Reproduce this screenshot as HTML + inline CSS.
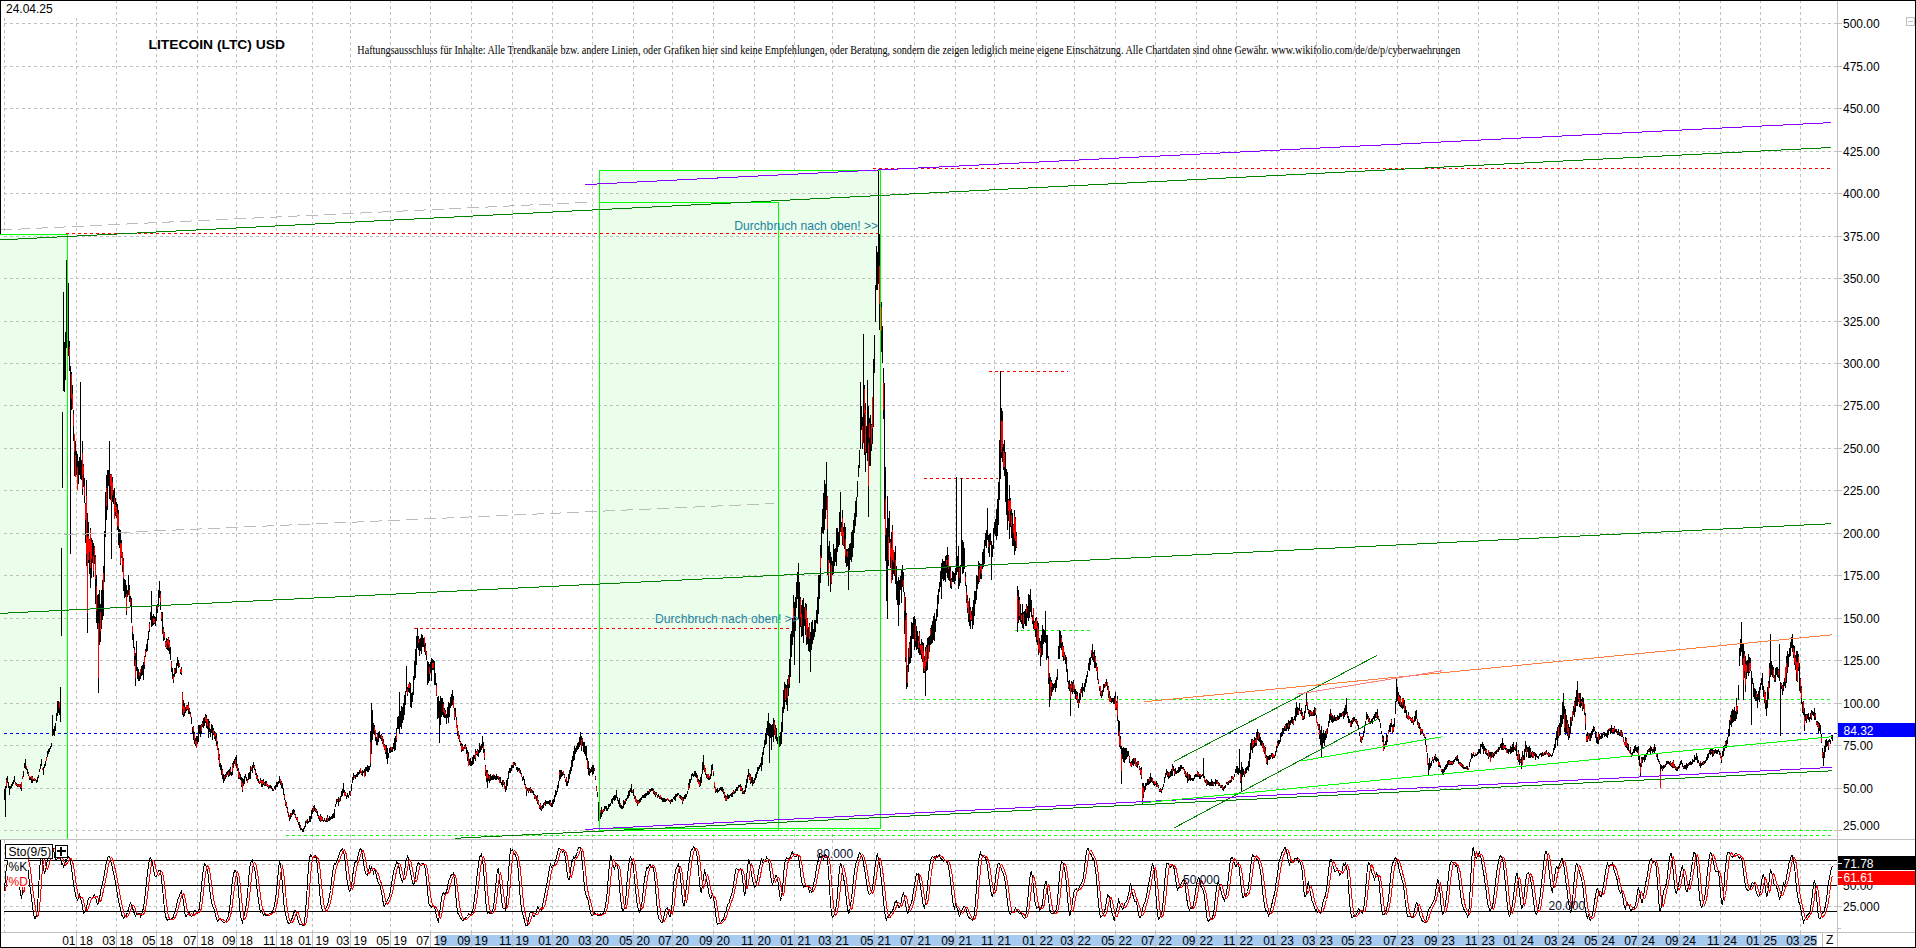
<!DOCTYPE html><html><head><meta charset="utf-8"><title>LTC</title><style>html,body{margin:0;padding:0;background:#fff;overflow:hidden}svg{display:block}</style></head><body><svg width="1916" height="948" viewBox="0 0 1916 948" shape-rendering="crispEdges" font-family="Liberation Sans, sans-serif" font-size="12">
<rect width="1916" height="948" fill="#fff"/>
<path d="M4.5 0V932M76.5 0V932M116.5 0V932M156.5 0V932M197.5 0V932M236.5 0V932M276.5 0V932M312.5 0V932M350.5 0V932M390.5 0V932M430.5 0V932M471.5 0V932M512.5 0V932M552.5 0V932M592.5 0V932M633.5 0V932M672.5 0V932M713.5 0V932M754.5 0V932M794.5 0V932M832.5 0V932M874.5 0V932M914.5 0V932M955.5 0V932M994.5 0V932M1036.5 0V932M1074.5 0V932M1115.5 0V932M1155.5 0V932M1196.5 0V932M1236.5 0V932M1277.5 0V932M1316.5 0V932M1355.5 0V932M1397.5 0V932M1438.5 0V932M1478.5 0V932M1517.5 0V932M1558.5 0V932M1598.5 0V932M1638.5 0V932M1679.5 0V932M1720.5 0V932M1760.5 0V932M1800.5 0V932" stroke="#c0c0c0" stroke-dasharray="3 3" fill="none"/>
<rect x="0" y="234" width="67" height="605" fill="#ebfdeb"/>
<rect x="599" y="170" width="282" height="658" fill="#ebfdeb"/>
<rect x="599" y="202" width="180" height="628" fill="#ebfdeb"/>
<path d="M4 23.5H1842M4 66.5H1842M4 108.5H1842M4 151.5H1842M4 193.5H1842M4 236.5H1842M4 278.5H1842M4 321.5H1842M4 363.5H1842M4 405.5H1842M4 448.5H1842M4 490.5H1842M4 533.5H1842M4 575.5H1842M4 618.5H1842M4 660.5H1842M4 703.5H1842M4 745.5H1842M4 788.5H1842M4 830.5H1842" stroke="#c0c0c0" stroke-dasharray="3 3" fill="none"/>
<path d="M66 233.5H878M873 168.5H1831M414 628.5H794M924 478.5H998M989 371.5H1068" stroke="#ff0000" stroke-dasharray="3 3" fill="none"/>
<path d="M903 699.5H1830M1015 630.5H1091M600 830.5H1832M286 835.5H1832" stroke="#00ff00" stroke-dasharray="3 3" fill="none"/>
<path d="M4 733.5H1838" stroke="#0000ff" stroke-dasharray="3 3" fill="none"/>
<path d="M4.5 789V800M5.5 786V817M6.5 778V788M7.5 776V783M8.5 782V788M9.5 786V795M10.5 786V789M11.5 784V788M12.5 782V786M13.5 780V784M14.5 776V782M15.5 782V785M16.5 783V786M17.5 784V787M18.5 784V787M19.5 784V787M20.5 784V789M21.5 782V791M22.5 776V779M23.5 771V777M24.5 763V768M25.5 759V769M26.5 766V770M27.5 769V774M28.5 772V776M29.5 776V780M30.5 777V780M31.5 776V783M32.5 776V783M33.5 779V781M34.5 778V781M35.5 779V781M36.5 780V783M37.5 777V782M38.5 775V778M39.5 769V772M40.5 764V769M41.5 759V766M42.5 768V770M43.5 767V775M44.5 764V768M45.5 761V766M46.5 757V761M47.5 751V757M48.5 749V754M49.5 748V752M50.5 746V749M51.5 743V747M52.5 715V736M53.5 729V735M54.5 726V736M55.5 723V731M56.5 713V721M57.5 701V716M58.5 701V713M59.5 702V715M60.5 687V722M61.5 548V636M62.5 412V488M63.5 292V391M64.5 342V392M65.5 332V380M66.5 260V348M67.5 295V355M68.5 283V356M69.5 341V371M70.5 366V554M71.5 372V410M72.5 385V409M73.5 410V441M74.5 434V476M75.5 441V477M76.5 451V475M77.5 454V490M78.5 461V484M79.5 457V475M80.5 382V479M81.5 460V480M82.5 441V495M83.5 464V487M84.5 478V503M85.5 503V543M86.5 480V566M87.5 513V633M88.5 522V563M89.5 539V574M90.5 528V588M91.5 538V578M92.5 540V563M93.5 543V577M94.5 546V564M95.5 555V604M96.5 575V623M97.5 595V629M98.5 594V693M99.5 590V645M100.5 604V642M101.5 590V629M102.5 580V620M103.5 566V616M104.5 531V582M105.5 492V537M106.5 475V520M107.5 470V510M108.5 470V486M109.5 441V499M110.5 474V500M111.5 474V559M112.5 477V502M113.5 490V504M114.5 488V519M115.5 498V516M116.5 502V518M117.5 504V530M118.5 510V545M119.5 529V548M120.5 530V565M121.5 540V558M122.5 552V572M123.5 558V591M124.5 579V598M125.5 580V597M126.5 585V615M127.5 590V597M128.5 575V595M129.5 585V602M130.5 596V606M131.5 598V623M132.5 626V640M133.5 634V648M134.5 647V666M135.5 653V686M136.5 641V671M137.5 667V679M138.5 669V681M139.5 672V681M140.5 669V679M141.5 666V676M142.5 665V675M143.5 662V680M144.5 656V669M145.5 649V657M146.5 644V652M147.5 639V651M148.5 631V640M149.5 622V632M150.5 612V620M151.5 591V627M152.5 616V626M153.5 614V625M154.5 616V624M155.5 617V626M156.5 606V621M157.5 604V613M158.5 590V607M159.5 581V598M160.5 591V610M161.5 612V621M162.5 612V634M163.5 627V641M164.5 632V640M165.5 641V647M166.5 638V649M167.5 639V650M168.5 637V651M169.5 640V654M170.5 647V660M171.5 661V672M172.5 668V679M173.5 674V683M174.5 668V677M175.5 668V674M176.5 663V673M177.5 657V666M178.5 660V668M179.5 663V667M180.5 669V674M181.5 667V675M182.5 692V715M183.5 700V717M184.5 703V716M185.5 707V713M186.5 705V711M187.5 705V710M188.5 702V714M189.5 708V714M190.5 712V717M191.5 717V724M192.5 727V734M193.5 726V740M194.5 732V744M195.5 738V746M196.5 736V748M197.5 736V744M198.5 725V742M199.5 725V734M200.5 725V737M201.5 724V734M202.5 721V727M203.5 718V728M204.5 717V726M205.5 714V723M206.5 715V728M207.5 719V729M208.5 719V738M209.5 721V732M210.5 729V737M211.5 724V733M212.5 725V740M213.5 728V735M214.5 731V739M215.5 732V741M216.5 734V746M217.5 741V750M218.5 748V760M219.5 754V767M220.5 763V770M221.5 765V775M222.5 769V779M223.5 774V783M224.5 775V781M225.5 774V779M226.5 772V777M227.5 771V775M228.5 770V777M229.5 769V776M230.5 767V775M231.5 772V776M232.5 763V775M233.5 761V768M234.5 759V764M235.5 757V766M236.5 755V768M237.5 764V771M238.5 768V779M239.5 772V779M240.5 774V780M241.5 777V787M242.5 778V792M243.5 779V786M244.5 776V784M245.5 774V778M246.5 777V781M247.5 779V783M248.5 773V780M249.5 772V779M250.5 766V779M251.5 767V771M252.5 765V773M253.5 762V768M254.5 765V770M255.5 769V775M256.5 773V779M257.5 775V781M258.5 779V783M259.5 781V784M260.5 778V783M261.5 780V787M262.5 780V787M263.5 779V785M264.5 782V786M265.5 781V786M266.5 781V786M267.5 784V787M268.5 785V789M269.5 785V788M270.5 785V788M271.5 786V789M272.5 788V791M273.5 789V791M274.5 786V789M275.5 785V790M276.5 782V787M277.5 782V787M278.5 781V784M279.5 776V783M280.5 779V785M281.5 781V788M282.5 783V789M283.5 788V795M284.5 794V800M285.5 800V806M286.5 802V808M287.5 807V813M288.5 812V817M289.5 815V821M290.5 813V819M291.5 813V817M292.5 810V815M293.5 809V814M294.5 810V815M295.5 814V818M296.5 817V820M297.5 817V822M298.5 822V825M299.5 822V828M300.5 825V830M301.5 828V830M302.5 829V832M303.5 828V832M304.5 826V829M305.5 821V827M306.5 820V823M307.5 819V824M308.5 821V823M309.5 816V822M310.5 816V822M311.5 810V819M312.5 808V814M313.5 806V812M314.5 805V811M315.5 808V812M316.5 809V813M317.5 811V816M318.5 815V819M319.5 816V821M320.5 814V822M321.5 816V821M322.5 817V821M323.5 820V822M324.5 818V821M325.5 820V822M326.5 818V822M327.5 815V822M328.5 818V821M329.5 816V821M330.5 817V820M331.5 816V819M332.5 814V819M333.5 813V818M334.5 809V818M335.5 804V807M336.5 799V804M337.5 799V802M338.5 797V806M339.5 798V802M340.5 796V801M341.5 791V797M342.5 789V796M343.5 783V793M344.5 790V796M345.5 792V796M346.5 795V799M347.5 793V797M348.5 795V798M349.5 791V795M350.5 791V796M351.5 784V791M352.5 777V783M353.5 773V780M354.5 775V778M355.5 775V779M356.5 774V777M357.5 772V777M358.5 772V775M359.5 770V774M360.5 768V773M361.5 771V775M362.5 770V776M363.5 771V773M364.5 769V777M365.5 767V776M366.5 767V771M367.5 765V772M368.5 766V772M369.5 766V770M370.5 731V767M371.5 703V754M372.5 710V740M373.5 723V734M374.5 725V735M375.5 730V741M376.5 737V745M377.5 733V745M378.5 732V742M379.5 731V738M380.5 735V739M381.5 734V741M382.5 736V744M383.5 739V747M384.5 744V750M385.5 745V754M386.5 745V759M387.5 748V764M388.5 753V758M389.5 748V753M390.5 747V753M391.5 747V752M392.5 747V752M393.5 743V749M394.5 738V751M395.5 736V750M396.5 728V742M397.5 717V729M398.5 716V729M399.5 692V734M400.5 711V727M401.5 706V729M402.5 707V723M403.5 703V720M404.5 695V715M405.5 691V705M406.5 666V692M407.5 687V696M408.5 684V692M409.5 682V693M410.5 683V707M411.5 693V708M412.5 692V702M413.5 676V695M414.5 661V680M415.5 649V678M416.5 636V665M417.5 628V648M418.5 636V650M419.5 639V656M420.5 638V651M421.5 634V654M422.5 635V647M423.5 638V647M424.5 637V652M425.5 643V655M426.5 651V660M427.5 661V685M428.5 662V683M429.5 664V681M430.5 662V673M431.5 658V681M432.5 659V670M433.5 660V670M434.5 661V685M435.5 673V685M436.5 683V696M437.5 697V719M438.5 696V718M439.5 701V743M440.5 696V725M441.5 698V717M442.5 698V715M443.5 702V717M444.5 708V718M445.5 710V718M446.5 714V724M447.5 707V718M448.5 702V723M449.5 703V717M450.5 697V708M451.5 694V706M452.5 690V705M453.5 696V708M454.5 708V720M455.5 708V717M456.5 717V728M457.5 725V736M458.5 731V739M459.5 735V742M460.5 741V746M461.5 743V752M462.5 744V751M463.5 747V751M464.5 745V749M465.5 744V749M466.5 747V754M467.5 750V761M468.5 752V766M469.5 759V765M470.5 758V766M471.5 761V766M472.5 757V765M473.5 755V764M474.5 755V759M475.5 749V761M476.5 751V755M477.5 749V756M478.5 750V757M479.5 743V753M480.5 746V752M481.5 744V750M482.5 736V748M483.5 742V753M484.5 749V760M485.5 765V776M486.5 770V782M487.5 770V788M488.5 774V781M489.5 775V783M490.5 774V781M491.5 776V780M492.5 775V780M493.5 774V780M494.5 775V779M495.5 776V780M496.5 774V780M497.5 776V779M498.5 776V780M499.5 777V783M500.5 777V783M501.5 782V785M502.5 780V787M503.5 780V785M504.5 782V789M505.5 786V792M506.5 780V790M507.5 778V786M508.5 771V779M509.5 768V773M510.5 768V773M511.5 765V771M512.5 765V768M513.5 762V768M514.5 762V765M515.5 763V766M516.5 767V770M517.5 767V772M518.5 768V771M519.5 768V773M520.5 770V774M521.5 773V777M522.5 777V781M523.5 776V780M524.5 779V785M525.5 784V789M526.5 787V796M527.5 788V791M528.5 788V793M529.5 788V791M530.5 787V793M531.5 789V793M532.5 790V793M533.5 791V795M534.5 794V799M535.5 795V799M536.5 796V801M537.5 795V804M538.5 800V805M539.5 805V809M540.5 803V810M541.5 806V811M542.5 805V809M543.5 803V808M544.5 802V805M545.5 800V806M546.5 801V804M547.5 801V804M548.5 801V804M549.5 800V805M550.5 800V806M551.5 803V807M552.5 800V807M553.5 799V804M554.5 795V802M555.5 790V797M556.5 791V795M557.5 785V792M558.5 781V788M559.5 770V781M560.5 770V779M561.5 770V777M562.5 772V776M563.5 771V775M564.5 774V778M565.5 779V782M566.5 777V786M567.5 781V786M568.5 774V783M569.5 770V779M570.5 767V774M571.5 760V771M572.5 756V767M573.5 751V761M574.5 746V760M575.5 748V754M576.5 746V752M577.5 743V750M578.5 742V749M579.5 737V747M580.5 732V745M581.5 736V751M582.5 738V746M583.5 742V752M584.5 742V754M585.5 746V756M586.5 746V760M587.5 758V769M588.5 761V775M589.5 768V776M590.5 769V773M591.5 767V772M592.5 765V775M593.5 765V774M594.5 768V771M595.5 776V780M596.5 786V791M597.5 792V797M598.5 802V821M599.5 813V819M600.5 810V819M601.5 807V817M602.5 810V814M603.5 809V812M604.5 806V811M605.5 806V809M606.5 806V811M607.5 808V811M608.5 804V809M609.5 804V807M610.5 803V806M611.5 799V803M612.5 798V804M613.5 796V800M614.5 795V801M615.5 795V800M616.5 790V798M617.5 797V801M618.5 800V804M619.5 798V807M620.5 803V808M621.5 805V809M622.5 806V809M623.5 800V808M624.5 801V805M625.5 799V804M626.5 798V801M627.5 795V799M628.5 791V798M629.5 790V796M630.5 788V792M631.5 784V793M632.5 790V793M633.5 789V796M634.5 795V799M635.5 796V802M636.5 799V803M637.5 800V806M638.5 800V804M639.5 799V803M640.5 798V802M641.5 797V800M642.5 795V798M643.5 795V798M644.5 794V798M645.5 793V798M646.5 793V796M647.5 791V795M648.5 791V795M649.5 789V794M650.5 789V792M651.5 788V791M652.5 788V791M653.5 789V794M654.5 791V795M655.5 792V797M656.5 792V795M657.5 795V798M658.5 794V797M659.5 796V799M660.5 795V799M661.5 797V800M662.5 798V802M663.5 798V802M664.5 798V802M665.5 799V802M666.5 799V801M667.5 798V800M668.5 799V801M669.5 800V802M670.5 800V804M671.5 799V802M672.5 799V802M673.5 797V799M674.5 796V800M675.5 794V801M676.5 794V797M677.5 793V796M678.5 793V795M679.5 795V798M680.5 795V799M681.5 796V800M682.5 797V804M683.5 797V801M684.5 795V799M685.5 794V799M686.5 794V797M687.5 791V794M688.5 783V790M689.5 779V788M690.5 779V783M691.5 774V780M692.5 773V776M693.5 774V777M694.5 771V776M695.5 771V777M696.5 773V778M697.5 775V782M698.5 779V784M699.5 780V787M700.5 777V786M701.5 774V783M702.5 762V774M703.5 755V770M704.5 765V772M705.5 768V775M706.5 774V778M707.5 774V779M708.5 774V780M709.5 776V780M710.5 774V779M711.5 765V776M712.5 764V770M713.5 771V776M714.5 782V788M715.5 787V793M716.5 789V792M717.5 788V793M718.5 790V792M719.5 788V791M720.5 787V790M721.5 787V791M722.5 787V792M723.5 789V794M724.5 792V798M725.5 795V801M726.5 796V801M727.5 794V799M728.5 795V799M729.5 795V798M730.5 794V796M731.5 793V797M732.5 792V797M733.5 790V794M734.5 791V794M735.5 789V793M736.5 787V791M737.5 787V791M738.5 785V788M739.5 785V787M740.5 784V791M741.5 786V791M742.5 788V794M743.5 791V794M744.5 790V794M745.5 785V792M746.5 779V788M747.5 775V783M748.5 769V777M749.5 773V780M750.5 774V784M751.5 777V783M752.5 777V786M753.5 780V784M754.5 778V783M755.5 774V780M756.5 772V778M757.5 767V774M758.5 767V771M759.5 765V769M760.5 763V767M761.5 757V771M762.5 752V765M763.5 747V755M764.5 740V748M765.5 733V745M766.5 728V744M767.5 721V735M768.5 713V736M769.5 723V763M770.5 724V738M771.5 725V750M772.5 724V737M773.5 718V742M774.5 720V735M775.5 725V739M776.5 728V741M777.5 737V744M778.5 738V748M779.5 736V747M780.5 732V746M781.5 722V744M782.5 707V732M783.5 690V713M784.5 682V709M785.5 684V702M786.5 685V705M787.5 679V711M788.5 675V696M789.5 659V688M790.5 634V677M791.5 631V657M792.5 618V645M793.5 595V637M794.5 602V665M795.5 597V631M796.5 582V608M797.5 572V599M798.5 563V619M799.5 582V683M800.5 597V627M801.5 605V637M802.5 600V636M803.5 598V643M804.5 607V626M805.5 603V635M806.5 604V645M807.5 618V644M808.5 627V651M809.5 623V652M810.5 632V672M811.5 622V650M812.5 620V644M813.5 629V640M814.5 620V637M815.5 620V632M816.5 610V623M817.5 597V624M818.5 575V614M819.5 575V599M820.5 545V583M821.5 527V558M822.5 509V533M823.5 493V534M824.5 480V530M825.5 484V519M826.5 462V510M827.5 496V575M828.5 546V586M829.5 541V563M830.5 552V592M831.5 557V584M832.5 561V575M833.5 544V574M834.5 549V566M835.5 548V562M836.5 528V566M837.5 528V552M838.5 532V547M839.5 512V545M840.5 492V532M841.5 522V536M842.5 510V545M843.5 527V546M844.5 523V549M845.5 527V563M846.5 549V567M847.5 549V566M848.5 548V590M849.5 544V570M850.5 543V560M851.5 532V562M852.5 530V557M853.5 520V548M854.5 513V533M855.5 501V526M856.5 497V517M857.5 481V497M858.5 465V477M859.5 450V468M860.5 382V449M861.5 406V430M862.5 417V449M863.5 334V443M864.5 385V455M865.5 403V472M866.5 426V453M867.5 380V461M868.5 406V517M869.5 418V466M870.5 415V466M871.5 424V451M872.5 397V444M873.5 359V427M874.5 335V373M875.5 285V322M876.5 246V290M877.5 252V290M878.5 169V284M879.5 234V330M880.5 250V340M881.5 302V352M882.5 326V363M883.5 368V419M884.5 383V519M885.5 467V561M886.5 528V601M887.5 496V619M888.5 518V566M889.5 511V543M890.5 539V568M891.5 532V583M892.5 525V580M893.5 550V574M894.5 552V576M895.5 546V584M896.5 566V600M897.5 581V605M898.5 577V626M899.5 580V605M900.5 576V590M901.5 569V603M902.5 565V587M903.5 572V592M904.5 592V634M905.5 597V662M906.5 613V689M907.5 665V687M908.5 648V672M909.5 642V664M910.5 636V663M911.5 622V658M912.5 623V639M913.5 617V639M914.5 616V650M915.5 619V647M916.5 626V650M917.5 631V649M918.5 636V653M919.5 631V655M920.5 644V655M921.5 639V659M922.5 642V662M923.5 643V673M924.5 656V673M925.5 647V696M926.5 645V671M927.5 638V670M928.5 637V659M929.5 636V652M930.5 628V645M931.5 625V644M932.5 621V643M933.5 616V640M934.5 613V641M935.5 619V632M936.5 609V621M937.5 595V617M938.5 589V604M939.5 582V592M940.5 571V587M941.5 563V599M942.5 559V579M943.5 561V581M944.5 561V580M945.5 556V582M946.5 555V573M947.5 547V578M948.5 555V580M949.5 566V581M950.5 567V588M951.5 578V589M952.5 571V582M953.5 572V582M954.5 573V584M955.5 568V581M956.5 477V575M957.5 556V572M958.5 546V589M959.5 567V586M960.5 565V583M961.5 478V566M962.5 540V574M963.5 542V573M964.5 548V569M965.5 572V586M966.5 585V603M967.5 595V613M968.5 601V622M969.5 598V626M970.5 607V629M971.5 611V621M972.5 607V629M973.5 600V625M974.5 591V616M975.5 591V604M976.5 575V600M977.5 576V589M978.5 561V584M979.5 563V582M980.5 564V579M981.5 564V579M982.5 552V569M983.5 549V567M984.5 540V564M985.5 533V546M986.5 530V548M987.5 508V540M988.5 535V553M989.5 534V557M990.5 533V545M991.5 541V580M992.5 545V557M993.5 528V549M994.5 522V534M995.5 519V536M996.5 509V540M997.5 499V536M998.5 482V525M999.5 440V500M1000.5 371V479M1001.5 408V458M1002.5 411V462M1003.5 444V470M1004.5 440V476M1005.5 452V502M1006.5 469V515M1007.5 472V530M1008.5 499V521M1009.5 485V539M1010.5 498V527M1011.5 509V538M1012.5 513V546M1013.5 524V546M1014.5 510V555M1015.5 517V551M1016.5 532V548M1017.5 586V632M1018.5 590V623M1019.5 597V620M1020.5 604V622M1021.5 613V624M1022.5 604V628M1023.5 612V629M1024.5 611V624M1025.5 609V626M1026.5 604V626M1027.5 606V618M1028.5 594V621M1029.5 595V618M1030.5 589V612M1031.5 600V617M1032.5 615V624M1033.5 608V629M1034.5 621V630M1035.5 618V637M1036.5 617V642M1037.5 621V645M1038.5 623V655M1039.5 638V653M1040.5 641V666M1041.5 635V657M1042.5 625V655M1043.5 629V644M1044.5 630V642M1045.5 611V643M1046.5 635V660M1047.5 635V658M1048.5 656V684M1049.5 673V707M1050.5 677V700M1051.5 680V696M1052.5 683V692M1053.5 684V690M1054.5 683V688M1055.5 680V692M1056.5 677V688M1057.5 669V680M1058.5 646V659M1059.5 630V659M1060.5 631V648M1061.5 635V650M1062.5 642V657M1063.5 646V661M1064.5 652V660M1065.5 655V664M1066.5 657V672M1067.5 669V682M1068.5 681V689M1069.5 680V691M1070.5 684V716M1071.5 681V692M1072.5 682V694M1073.5 680V692M1074.5 685V694M1075.5 689V699M1076.5 691V700M1077.5 692V703M1078.5 699V708M1079.5 693V703M1080.5 689V700M1081.5 687V693M1082.5 683V697M1083.5 687V691M1084.5 683V692M1085.5 679V687M1086.5 675V683M1087.5 671V677M1088.5 663V670M1089.5 658V671M1090.5 657V665M1091.5 650V658M1092.5 644V660M1093.5 652V662M1094.5 650V668M1095.5 656V668M1096.5 663V671M1097.5 667V680M1098.5 679V684M1099.5 686V691M1100.5 686V696M1101.5 691V698M1102.5 690V696M1103.5 684V692M1104.5 684V688M1105.5 682V687M1106.5 679V686M1107.5 682V690M1108.5 686V698M1109.5 691V702M1110.5 696V702M1111.5 698V703M1112.5 698V702M1113.5 698V704M1114.5 696V704M1115.5 692V710M1116.5 701V710M1117.5 696V721M1118.5 720V736M1119.5 721V747M1120.5 736V749M1121.5 746V784M1122.5 748V759M1123.5 747V762M1124.5 748V763M1125.5 748V760M1126.5 748V759M1127.5 751V757M1128.5 751V756M1129.5 756V763M1130.5 762V766M1131.5 761V767M1132.5 759V765M1133.5 758V766M1134.5 758V764M1135.5 758V766M1136.5 762V767M1137.5 761V768M1138.5 761V765M1139.5 766V770M1140.5 768V775M1141.5 767V779M1142.5 783V804M1143.5 783V798M1144.5 786V792M1145.5 783V790M1146.5 783V786M1147.5 779V785M1148.5 779V785M1149.5 777V784M1150.5 773V783M1151.5 777V782M1152.5 778V783M1153.5 781V785M1154.5 781V786M1155.5 782V785M1156.5 781V787M1157.5 783V787M1158.5 785V788M1159.5 789V792M1160.5 788V792M1161.5 789V793M1162.5 787V790M1163.5 784V787M1164.5 777V783M1165.5 773V778M1166.5 769V775M1167.5 771V777M1168.5 772V779M1169.5 772V778M1170.5 771V777M1171.5 769V776M1172.5 764V776M1173.5 766V771M1174.5 769V776M1175.5 768V774M1176.5 771V774M1177.5 770V773M1178.5 767V773M1179.5 767V772M1180.5 765V771M1181.5 765V769M1182.5 767V769M1183.5 767V770M1184.5 769V774M1185.5 771V777M1186.5 773V778M1187.5 772V783M1188.5 774V781M1189.5 774V780M1190.5 775V781M1191.5 778V780M1192.5 778V781M1193.5 778V781M1194.5 775V779M1195.5 774V777M1196.5 774V777M1197.5 771V777M1198.5 772V777M1199.5 774V779M1200.5 774V779M1201.5 775V777M1202.5 774V776M1203.5 758V778M1204.5 776V782M1205.5 780V783M1206.5 779V786M1207.5 780V785M1208.5 781V785M1209.5 782V786M1210.5 782V786M1211.5 779V786M1212.5 781V786M1213.5 782V786M1214.5 782V784M1215.5 779V786M1216.5 780V784M1217.5 780V784M1218.5 782V786M1219.5 783V786M1220.5 785V788M1221.5 785V788M1222.5 785V790M1223.5 787V791M1224.5 786V789M1225.5 785V788M1226.5 782V784M1227.5 782V785M1228.5 781V785M1229.5 780V783M1230.5 780V783M1231.5 776V782M1232.5 776V779M1233.5 777V780M1234.5 774V777M1235.5 769V773M1236.5 766V773M1237.5 766V774M1238.5 768V775M1239.5 749V773M1240.5 770V783M1241.5 762V791M1242.5 767V777M1243.5 769V775M1244.5 771V777M1245.5 768V774M1246.5 767V773M1247.5 766V770M1248.5 761V771M1249.5 753V767M1250.5 743V759M1251.5 739V750M1252.5 739V753M1253.5 740V748M1254.5 737V747M1255.5 738V746M1256.5 732V746M1257.5 729V740M1258.5 732V741M1259.5 733V742M1260.5 737V745M1261.5 740V746M1262.5 741V748M1263.5 743V752M1264.5 746V754M1265.5 747V758M1266.5 755V764M1267.5 756V765M1268.5 756V760M1269.5 755V760M1270.5 755V759M1271.5 753V757M1272.5 753V759M1273.5 754V758M1274.5 755V758M1275.5 751V756M1276.5 746V752M1277.5 741V748M1278.5 740V746M1279.5 740V744M1280.5 733V742M1281.5 732V737M1282.5 728V736M1283.5 728V734M1284.5 726V731M1285.5 724V731M1286.5 723V731M1287.5 723V729M1288.5 720V731M1289.5 721V729M1290.5 720V725M1291.5 717V723M1292.5 717V724M1293.5 719V725M1294.5 716V720M1295.5 708V721M1296.5 702V717M1297.5 707V715M1298.5 708V715M1299.5 703V711M1300.5 710V714M1301.5 708V716M1302.5 712V720M1303.5 716V720M1304.5 711V719M1305.5 705V713M1306.5 693V706M1307.5 702V710M1308.5 709V714M1309.5 710V717M1310.5 710V716M1311.5 711V716M1312.5 712V716M1313.5 710V716M1314.5 707V716M1315.5 708V715M1316.5 715V723M1317.5 722V726M1318.5 724V730M1319.5 724V739M1320.5 730V745M1321.5 726V757M1322.5 733V748M1323.5 730V743M1324.5 733V746M1325.5 731V740M1326.5 729V738M1327.5 728V734M1328.5 721V727M1329.5 714V723M1330.5 709V720M1331.5 713V722M1332.5 715V723M1333.5 716V722M1334.5 715V721M1335.5 717V721M1336.5 717V721M1337.5 715V720M1338.5 716V720M1339.5 713V719M1340.5 713V717M1341.5 713V717M1342.5 712V716M1343.5 711V719M1344.5 708V717M1345.5 705V715M1346.5 698V714M1347.5 712V718M1348.5 716V723M1349.5 719V723M1350.5 721V727M1351.5 720V727M1352.5 718V724M1353.5 717V722M1354.5 717V721M1355.5 719V722M1356.5 719V724M1357.5 721V726M1358.5 725V729M1359.5 732V736M1360.5 736V742M1361.5 737V743M1362.5 736V740M1363.5 731V737M1364.5 726V733M1365.5 721V726M1366.5 712V720M1367.5 714V719M1368.5 716V722M1369.5 718V724M1370.5 721V724M1371.5 719V723M1372.5 718V724M1373.5 716V719M1374.5 714V720M1375.5 712V718M1376.5 712V718M1377.5 709V719M1378.5 716V720M1379.5 719V722M1380.5 723V728M1381.5 731V734M1382.5 735V742M1383.5 736V751M1384.5 744V749M1385.5 741V745M1386.5 734V745M1387.5 735V742M1388.5 730V734M1389.5 725V732M1390.5 723V732M1391.5 719V727M1392.5 725V733M1393.5 724V732M1394.5 718V727M1395.5 701V714M1396.5 678V702M1397.5 687V701M1398.5 692V704M1399.5 695V706M1400.5 696V707M1401.5 702V708M1402.5 698V709M1403.5 698V708M1404.5 700V713M1405.5 706V713M1406.5 710V718M1407.5 715V719M1408.5 712V720M1409.5 716V719M1410.5 717V721M1411.5 718V723M1412.5 717V723M1413.5 720V725M1414.5 716V722M1415.5 711V721M1416.5 710V719M1417.5 719V725M1418.5 722V728M1419.5 723V729M1420.5 727V735M1421.5 729V734M1422.5 729V733M1423.5 733V736M1424.5 734V738M1425.5 737V745M1426.5 745V752M1427.5 753V765M1428.5 763V775M1429.5 758V770M1430.5 763V768M1431.5 761V766M1432.5 757V761M1433.5 759V763M1434.5 756V760M1435.5 754V761M1436.5 757V762M1437.5 758V761M1438.5 759V767M1439.5 762V767M1440.5 765V768M1441.5 769V772M1442.5 769V774M1443.5 769V775M1444.5 767V772M1445.5 765V770M1446.5 764V769M1447.5 761V767M1448.5 760V765M1449.5 760V765M1450.5 761V765M1451.5 761V765M1452.5 761V765M1453.5 760V764M1454.5 759V762M1455.5 757V760M1456.5 756V761M1457.5 755V761M1458.5 759V764M1459.5 762V765M1460.5 762V766M1461.5 763V767M1462.5 764V768M1463.5 765V769M1464.5 767V769M1465.5 767V769M1466.5 766V769M1467.5 766V770M1468.5 768V770M1469.5 762V767M1470.5 759V762M1471.5 753V759M1472.5 754V758M1473.5 752V756M1474.5 755V757M1475.5 753V756M1476.5 754V756M1477.5 752V755M1478.5 749V754M1479.5 749V753M1480.5 744V754M1481.5 744V747M1482.5 742V749M1483.5 744V754M1484.5 746V751M1485.5 748V754M1486.5 749V755M1487.5 753V756M1488.5 750V759M1489.5 752V757M1490.5 752V762M1491.5 752V758M1492.5 752V757M1493.5 753V758M1494.5 752V756M1495.5 751V754M1496.5 750V754M1497.5 749V752M1498.5 747V752M1499.5 747V750M1500.5 744V748M1501.5 743V750M1502.5 738V750M1503.5 743V750M1504.5 745V749M1505.5 745V750M1506.5 748V753M1507.5 749V753M1508.5 749V754M1509.5 749V752M1510.5 746V754M1511.5 747V753M1512.5 744V752M1513.5 742V752M1514.5 747V750M1515.5 745V751M1516.5 742V756M1517.5 754V760M1518.5 750V762M1519.5 754V765M1520.5 759V763M1521.5 757V769M1522.5 751V765M1523.5 755V760M1524.5 749V760M1525.5 741V752M1526.5 745V757M1527.5 747V752M1528.5 747V758M1529.5 746V758M1530.5 748V758M1531.5 752V757M1532.5 751V758M1533.5 752V758M1534.5 752V756M1535.5 753V760M1536.5 754V757M1537.5 756V758M1538.5 756V759M1539.5 754V756M1540.5 753V755M1541.5 753V757M1542.5 752V756M1543.5 753V756M1544.5 752V755M1545.5 751V755M1546.5 750V754M1547.5 753V755M1548.5 752V757M1549.5 753V757M1550.5 754V756M1551.5 755V757M1552.5 753V756M1553.5 748V753M1554.5 744V750M1555.5 738V748M1556.5 731V740M1557.5 727V746M1558.5 725V738M1559.5 723V736M1560.5 715V735M1561.5 715V727M1562.5 702V724M1563.5 693V719M1564.5 706V732M1565.5 709V735M1566.5 715V733M1567.5 720V736M1568.5 724V740M1569.5 727V738M1570.5 717V734M1571.5 717V726M1572.5 711V721M1573.5 706V715M1574.5 701V717M1575.5 697V712M1576.5 690V706M1577.5 681V706M1578.5 693V702M1579.5 693V707M1580.5 693V708M1581.5 699V706M1582.5 697V711M1583.5 698V709M1584.5 704V715M1585.5 713V730M1586.5 734V742M1587.5 732V742M1588.5 733V739M1589.5 734V741M1590.5 733V741M1591.5 731V738M1592.5 729V735M1593.5 726V732M1594.5 727V731M1595.5 731V738M1596.5 732V743M1597.5 737V744M1598.5 732V744M1599.5 734V740M1600.5 736V739M1601.5 733V739M1602.5 733V738M1603.5 732V735M1604.5 732V737M1605.5 733V736M1606.5 733V737M1607.5 730V738M1608.5 729V735M1609.5 728V731M1610.5 728V734M1611.5 725V733M1612.5 728V734M1613.5 728V734M1614.5 726V733M1615.5 729V732M1616.5 729V733M1617.5 731V735M1618.5 729V735M1619.5 732V736M1620.5 730V736M1621.5 730V737M1622.5 732V737M1623.5 737V742M1624.5 742V745M1625.5 737V747M1626.5 738V748M1627.5 743V750M1628.5 744V751M1629.5 750V753M1630.5 747V754M1631.5 753V757M1632.5 752V756M1633.5 749V753M1634.5 746V753M1635.5 745V751M1636.5 747V752M1637.5 747V753M1638.5 746V760M1639.5 756V766M1640.5 763V776M1641.5 757V767M1642.5 757V763M1643.5 757V760M1644.5 754V762M1645.5 755V760M1646.5 753V757M1647.5 750V755M1648.5 749V752M1649.5 748V752M1650.5 746V754M1651.5 747V751M1652.5 749V754M1653.5 747V752M1654.5 744V753M1655.5 747V751M1656.5 753V757M1657.5 753V760M1658.5 759V762M1659.5 761V764M1660.5 764V788M1661.5 765V769M1662.5 766V771M1663.5 765V769M1664.5 765V768M1665.5 764V767M1666.5 761V765M1667.5 761V764M1668.5 761V764M1669.5 762V765M1670.5 761V766M1671.5 763V767M1672.5 762V768M1673.5 760V768M1674.5 764V768M1675.5 766V770M1676.5 767V771M1677.5 767V771M1678.5 766V769M1679.5 764V768M1680.5 761V765M1681.5 760V764M1682.5 763V767M1683.5 766V769M1684.5 765V769M1685.5 765V769M1686.5 763V770M1687.5 764V768M1688.5 763V766M1689.5 762V765M1690.5 761V765M1691.5 762V765M1692.5 759V764M1693.5 760V762M1694.5 755V762M1695.5 757V760M1696.5 753V760M1697.5 756V763M1698.5 760V763M1699.5 763V766M1700.5 761V768M1701.5 763V766M1702.5 762V765M1703.5 761V765M1704.5 761V764M1705.5 760V763M1706.5 757V761M1707.5 754V760M1708.5 753V758M1709.5 750V754M1710.5 749V755M1711.5 749V754M1712.5 748V757M1713.5 750V756M1714.5 750V754M1715.5 749V753M1716.5 750V754M1717.5 750V754M1718.5 749V752M1719.5 751V755M1720.5 753V758M1721.5 756V763M1722.5 751V757M1723.5 746V756M1724.5 745V751M1725.5 741V748M1726.5 740V748M1727.5 737V744M1728.5 729V737M1729.5 720V736M1730.5 715V725M1731.5 711V727M1732.5 709V723M1733.5 710V722M1734.5 707V721M1735.5 711V721M1736.5 698V719M1737.5 706V714M1738.5 685V700M1739.5 648V666M1740.5 639V656M1741.5 622V652M1742.5 644V665M1743.5 644V700M1744.5 651V678M1745.5 656V692M1746.5 661V679M1747.5 660V673M1748.5 654V676M1749.5 657V673M1750.5 658V671M1751.5 671V725M1752.5 678V684M1753.5 683V697M1754.5 688V699M1755.5 689V701M1756.5 691V701M1757.5 694V708M1758.5 691V700M1759.5 687V702M1760.5 683V690M1761.5 678V685M1762.5 673V690M1763.5 686V697M1764.5 690V703M1765.5 692V709M1766.5 700V716M1767.5 687V708M1768.5 681V699M1769.5 663V688M1770.5 634V677M1771.5 661V675M1772.5 665V677M1773.5 667V678M1774.5 675V682M1775.5 668V682M1776.5 667V675M1777.5 667V677M1778.5 669V678M1779.5 644V681M1780.5 682V736M1781.5 683V689M1782.5 685V695M1783.5 682V691M1784.5 678V686M1785.5 667V688M1786.5 656V683M1787.5 651V673M1788.5 654V667M1789.5 648V657M1790.5 642V656M1791.5 637V648M1792.5 634V652M1793.5 645V658M1794.5 646V665M1795.5 655V670M1796.5 651V681M1797.5 651V682M1798.5 654V671M1799.5 663V691M1800.5 678V693M1801.5 686V704M1802.5 702V713M1803.5 701V715M1804.5 708V731M1805.5 714V721M1806.5 714V723M1807.5 714V719M1808.5 713V720M1809.5 717V722M1810.5 713V719M1811.5 710V720M1812.5 711V715M1813.5 712V716M1814.5 708V720M1815.5 713V720M1816.5 721V725M1817.5 721V727M1818.5 722V734M1819.5 723V731M1820.5 725V734M1821.5 734V743M1822.5 748V758M1823.5 752V766M1824.5 746V758M1825.5 740V752M1826.5 739V747M1827.5 741V746M1828.5 740V750M1829.5 739V742M1830.5 740V744M1831.5 735V739M1832.5 735V741" stroke="#000" fill="none"/>
<path d="M6.5 780V786M15.5 783V785M16.5 784V785M17.5 785V786M18.5 785V787M19.5 784V786M20.5 786V787M21.5 782V788M22.5 776V778M26.5 766V768M28.5 773V775M29.5 776V778M31.5 776V779M32.5 777V780M34.5 778V780M35.5 780V781M42.5 768V770M46.5 758V761M59.5 702V708M69.5 347V356M71.5 374V399M72.5 394V409M73.5 414V426M74.5 434V452M75.5 455V477M77.5 467V490M82.5 453V489M83.5 466V474M84.5 486V496M85.5 504V520M86.5 496V554M87.5 537V613M88.5 536V560M89.5 540V552M90.5 530V568M91.5 542V559M93.5 556V571M94.5 547V556M95.5 557V579M96.5 586V611M98.5 623V678M100.5 612V631M103.5 573V590M106.5 488V506M110.5 475V486M111.5 474V502M112.5 482V495M114.5 498V519M115.5 505V512M116.5 507V515M117.5 513V526M118.5 514V527M120.5 543V563M121.5 543V556M122.5 553V565M123.5 561V578M126.5 594V611M129.5 590V596M130.5 599V605M132.5 626V632M134.5 650V656M135.5 660V678M139.5 672V676M140.5 669V673M144.5 657V665M145.5 651V655M149.5 624V629M153.5 618V623M154.5 619V623M157.5 605V609M160.5 594V602M161.5 613V619M163.5 629V636M164.5 633V638M165.5 642V646M166.5 642V648M167.5 640V643M168.5 638V645M169.5 642V648M171.5 662V667M173.5 676V680M174.5 669V673M179.5 663V666M180.5 669V672M181.5 669V673M182.5 693V709M183.5 706V714M184.5 707V712M186.5 705V709M187.5 706V709M188.5 705V709M189.5 709V711M190.5 714V717M193.5 727V731M194.5 734V740M195.5 741V744M196.5 741V748M201.5 725V731M202.5 723V725M205.5 716V721M206.5 718V722M207.5 720V726M209.5 723V728M213.5 730V733M214.5 734V737M215.5 732V736M216.5 738V742M217.5 744V749M218.5 750V758M219.5 756V764M222.5 770V775M224.5 776V778M226.5 774V776M228.5 772V775M230.5 769V772M232.5 764V771M235.5 760V766M237.5 765V769M238.5 770V777M239.5 775V778M241.5 781V785M242.5 783V790M247.5 780V783M251.5 767V770M254.5 766V768M255.5 771V774M256.5 775V778M257.5 777V779M259.5 781V783M260.5 780V782M261.5 781V784M262.5 781V784M263.5 781V783M264.5 783V785M266.5 783V786M267.5 785V786M268.5 785V787M269.5 785V786M273.5 789V790M280.5 779V782M281.5 782V785M284.5 795V798M285.5 801V804M286.5 803V807M287.5 809V811M288.5 812V814M289.5 815V818M291.5 814V816M294.5 812V814M295.5 815V817M296.5 817V819M297.5 818V821M299.5 823V824M300.5 826V828M306.5 820V822M313.5 807V811M315.5 809V811M316.5 810V812M318.5 816V817M319.5 816V818M320.5 816V821M321.5 817V820M322.5 818V820M325.5 820V821M327.5 817V821M337.5 800V801M339.5 798V801M344.5 792V796M345.5 793V795M346.5 795V796M350.5 792V795M354.5 776V778M360.5 768V772M361.5 771V774M364.5 772V777M370.5 742V763M374.5 727V731M375.5 730V737M377.5 735V739M381.5 735V738M382.5 737V742M383.5 742V747M384.5 745V749M385.5 746V752M391.5 747V750M396.5 733V740M407.5 689V694M408.5 684V688M409.5 684V688M418.5 639V643M424.5 637V645M425.5 646V652M426.5 652V655M429.5 667V674M432.5 663V668M433.5 663V668M436.5 686V695M443.5 704V712M444.5 710V713M445.5 712V715M453.5 700V708M454.5 711V718M456.5 720V728M457.5 726V732M458.5 732V738M459.5 737V740M460.5 742V744M461.5 745V750M462.5 746V749M463.5 748V751M464.5 746V747M465.5 746V749M467.5 753V757M468.5 757V766M475.5 753V758M476.5 752V754M477.5 750V754M483.5 746V749M484.5 752V758M485.5 766V773M486.5 773V778M487.5 772V778M489.5 776V779M493.5 774V776M498.5 776V778M499.5 779V783M503.5 781V784M504.5 784V789M513.5 763V765M515.5 764V765M519.5 770V773M521.5 774V777M525.5 785V789M526.5 788V791M528.5 789V791M530.5 788V791M531.5 791V793M532.5 790V791M534.5 795V797M535.5 796V799M537.5 797V802M538.5 801V804M539.5 806V808M540.5 804V807M541.5 807V809M544.5 803V805M550.5 802V805M559.5 772V775M563.5 771V774M564.5 775V777M565.5 779V780M566.5 778V782M581.5 740V747M582.5 739V741M587.5 761V768M589.5 769V771M594.5 769V770M595.5 777V779M596.5 787V791M599.5 815V818M600.5 810V813M602.5 810V812M603.5 810V811M620.5 803V805M625.5 800V802M632.5 790V792M634.5 795V797M635.5 798V802M636.5 799V802M637.5 802V804M638.5 801V804M649.5 790V792M653.5 790V792M654.5 792V793M655.5 793V795M656.5 793V794M657.5 796V797M659.5 797V798M660.5 795V798M667.5 798V800M668.5 799V800M669.5 800V801M670.5 801V802M679.5 796V798M681.5 797V799M682.5 798V802M688.5 785V789M697.5 777V781M698.5 781V784M699.5 782V786M704.5 765V770M705.5 769V773M707.5 774V778M708.5 774V777M709.5 776V778M713.5 771V773M714.5 782V786M715.5 787V791M723.5 790V792M724.5 793V796M725.5 797V801M726.5 797V800M733.5 791V793M734.5 791V792M740.5 787V790M741.5 787V790M742.5 790V792M743.5 792V793M749.5 774V779M750.5 776V782M753.5 781V782M774.5 722V730M775.5 729V736M778.5 739V742M785.5 689V700M787.5 688V698M788.5 677V684M793.5 608V621M800.5 599V617M801.5 614V626M805.5 607V619M806.5 610V637M807.5 619V629M809.5 625V639M820.5 556V568M827.5 497V529M828.5 560V576M831.5 565V583M841.5 527V536M842.5 518V536M843.5 532V545M845.5 539V556M847.5 551V557M862.5 426V443M864.5 389V413M865.5 410V452M868.5 443V486M869.5 423V438M871.5 425V444M872.5 397V428M879.5 266V304M880.5 276V306M881.5 307V331M883.5 383V410M885.5 499V535M888.5 537V560M890.5 542V557M891.5 548V583M892.5 530V560M893.5 550V562M895.5 560V575M903.5 580V587M904.5 596V611M905.5 620V657M906.5 615V666M907.5 667V683M909.5 644V657M915.5 625V641M918.5 641V648M919.5 633V642M920.5 645V650M921.5 645V654M922.5 645V659M923.5 651V668M924.5 661V671M925.5 651V666M926.5 647V662M928.5 645V659M930.5 629V635M946.5 560V565M948.5 556V569M950.5 571V579M951.5 580V586M959.5 568V578M965.5 577V582M966.5 592V599M967.5 600V608M968.5 601V614M970.5 610V620M971.5 615V620M979.5 569V581M980.5 566V570M981.5 565V574M988.5 542V547M1001.5 421V452M1002.5 421V447M1003.5 451V467M1004.5 453V467M1008.5 500V511M1009.5 501V523M1010.5 500V511M1011.5 515V526M1013.5 525V533M1014.5 516V538M1015.5 519V541M1016.5 536V547M1017.5 596V622M1019.5 600V616M1021.5 615V620M1023.5 614V624M1026.5 606V613M1032.5 618V621M1033.5 608V620M1034.5 623V629M1035.5 621V629M1036.5 619V628M1037.5 626V640M1038.5 629V649M1039.5 644V653M1040.5 648V655M1048.5 659V678M1050.5 681V697M1051.5 682V687M1061.5 638V643M1062.5 646V656M1063.5 647V656M1064.5 655V659M1068.5 684V687M1070.5 686V698M1071.5 683V688M1073.5 683V691M1074.5 685V689M1076.5 694V699M1077.5 696V701M1078.5 701V704M1080.5 689V694M1091.5 650V653M1093.5 654V657M1095.5 657V662M1096.5 666V670M1097.5 668V672M1098.5 679V682M1099.5 686V688M1100.5 686V693M1101.5 692V695M1105.5 683V687M1107.5 682V686M1108.5 687V694M1109.5 695V702M1110.5 698V701M1115.5 698V709M1116.5 703V708M1117.5 699V716M1119.5 731V745M1120.5 739V746M1121.5 754V771M1129.5 757V759M1130.5 763V766M1131.5 763V766M1134.5 758V761M1135.5 761V766M1136.5 764V766M1137.5 761V764M1138.5 762V764M1139.5 767V769M1140.5 769V773M1141.5 770V777M1142.5 786V800M1143.5 788V794M1149.5 778V781M1152.5 779V782M1154.5 781V784M1155.5 782V784M1157.5 784V787M1158.5 786V787M1159.5 790V791M1160.5 789V791M1161.5 790V791M1167.5 773V775M1169.5 772V776M1172.5 767V771M1174.5 771V774M1183.5 768V770M1184.5 770V773M1185.5 773V775M1186.5 773V776M1188.5 774V779M1197.5 772V775M1198.5 773V776M1200.5 774V776M1204.5 778V782M1206.5 781V785M1213.5 783V785M1217.5 781V784M1218.5 783V785M1220.5 785V787M1222.5 786V789M1227.5 783V784M1228.5 782V783M1229.5 780V782M1231.5 778V780M1232.5 776V778M1233.5 777V779M1240.5 774V781M1244.5 771V775M1252.5 740V747M1253.5 741V745M1255.5 740V743M1256.5 737V743M1258.5 733V739M1262.5 743V747M1263.5 746V752M1264.5 747V751M1265.5 751V757M1266.5 757V763M1270.5 756V757M1272.5 754V757M1273.5 754V757M1274.5 755V756M1277.5 743V746M1285.5 725V729M1288.5 724V727M1293.5 720V724M1298.5 710V714M1300.5 711V713M1302.5 714V719M1303.5 717V718M1307.5 702V706M1308.5 710V712M1310.5 712V715M1311.5 711V713M1312.5 712V715M1315.5 709V713M1316.5 718V723M1317.5 723V726M1318.5 725V729M1319.5 730V735M1326.5 729V734M1331.5 713V716M1333.5 716V718M1336.5 718V720M1342.5 713V716M1347.5 713V716M1350.5 722V726M1352.5 719V721M1355.5 720V721M1356.5 720V722M1357.5 722V724M1360.5 736V739M1361.5 738V742M1362.5 736V738M1368.5 717V720M1369.5 720V723M1376.5 714V717M1378.5 717V719M1382.5 738V740M1383.5 742V751M1384.5 745V747M1387.5 737V740M1388.5 731V734M1391.5 720V723M1392.5 727V732M1393.5 727V730M1398.5 695V701M1399.5 697V702M1400.5 698V705M1402.5 698V705M1403.5 699V702M1404.5 704V710M1407.5 715V718M1408.5 715V720M1409.5 716V718M1410.5 718V720M1411.5 719V721M1412.5 718V721M1413.5 720V723M1417.5 719V721M1418.5 723V727M1420.5 728V731M1421.5 730V733M1422.5 729V731M1423.5 733V735M1424.5 734V737M1426.5 747V751M1427.5 758V765M1432.5 758V760M1435.5 755V757M1438.5 762V765M1439.5 762V765M1440.5 765V766M1441.5 769V771M1449.5 761V764M1450.5 762V764M1451.5 762V763M1452.5 762V764M1456.5 756V758M1459.5 763V765M1460.5 763V765M1461.5 764V766M1463.5 765V767M1466.5 767V768M1468.5 768V770M1473.5 752V754M1475.5 753V755M1485.5 750V752M1486.5 750V753M1488.5 750V757M1490.5 756V762M1492.5 753V756M1494.5 753V754M1497.5 749V751M1503.5 745V749M1504.5 746V748M1505.5 746V748M1506.5 749V753M1515.5 745V749M1517.5 756V759M1518.5 752V760M1520.5 760V762M1522.5 757V765M1526.5 749V753M1530.5 752V755M1532.5 752V756M1533.5 754V758M1534.5 753V754M1543.5 753V755M1545.5 751V753M1546.5 752V754M1547.5 754V755M1548.5 753V755M1549.5 754V756M1558.5 727V736M1564.5 714V728M1567.5 723V732M1568.5 728V736M1571.5 717V722M1572.5 711V716M1574.5 702V708M1578.5 693V699M1579.5 698V704M1581.5 701V703M1582.5 702V708M1584.5 704V712M1585.5 716V724M1586.5 736V741M1587.5 736V740M1588.5 734V736M1589.5 736V741M1594.5 728V729M1596.5 733V737M1598.5 734V740M1603.5 733V734M1609.5 728V730M1612.5 729V732M1613.5 729V732M1614.5 727V730M1617.5 732V733M1620.5 730V733M1621.5 733V736M1622.5 732V734M1623.5 738V742M1624.5 743V745M1625.5 741V746M1626.5 739V745M1627.5 745V747M1629.5 750V753M1630.5 748V750M1631.5 754V756M1638.5 750V756M1640.5 767V773M1641.5 759V765M1648.5 750V751M1653.5 747V749M1656.5 754V756M1659.5 762V763M1660.5 771V788M1662.5 768V769M1664.5 765V766M1670.5 762V764M1671.5 764V766M1672.5 763V766M1673.5 761V767M1674.5 765V767M1675.5 767V769M1676.5 767V769M1683.5 767V768M1688.5 764V765M1699.5 764V765M1700.5 761V763M1703.5 762V764M1711.5 751V752M1713.5 751V754M1720.5 754V757M1721.5 757V760M1724.5 746V748M1725.5 742V745M1730.5 717V721M1736.5 705V712M1737.5 707V710M1743.5 658V680M1744.5 654V671M1745.5 664V685M1746.5 665V672M1749.5 663V672M1750.5 663V670M1756.5 693V697M1764.5 690V699M1765.5 694V703M1768.5 683V692M1769.5 668V676M1773.5 670V677M1774.5 677V680M1778.5 670V675M1781.5 684V686M1782.5 686V689M1785.5 667V682M1786.5 663V673M1793.5 648V655M1794.5 652V662M1795.5 658V665M1796.5 662V673M1797.5 662V681M1798.5 657V667M1800.5 679V687M1801.5 688V698M1803.5 702V712M1804.5 717V725M1806.5 715V719M1811.5 713V718M1815.5 714V717M1816.5 722V724M1817.5 723V726M1818.5 724V728M1821.5 737V742M1822.5 752V757M1828.5 742V747" stroke="#ff0000" fill="none"/>
<path d="M0 234.5H67.5V839" stroke="#00ff00" fill="none"/>
<rect x="599.5" y="170.5" width="281" height="658" stroke="#00ff00" fill="none"/>
<rect x="599.5" y="202.5" width="179" height="628" stroke="#00ff00" fill="none"/>
<path d="M0 230L594 202M64 535L774 503.5" stroke="#bcbcbc" stroke-dasharray="12 6" fill="none"/>
<path d="M0 239.9L1831 147.5M0 613.4L1831 523.7M455 838.3L1832 770.8M1174 761.5L1377 655.5M1174 828L1377 719.3" stroke="#008000" fill="none"/>
<path d="M585 184.6L1831 122.6" stroke="#8800ff" fill="none"/>
<path d="M585 829.4L1832 767.4" stroke="#8800ff" fill="none"/>
<path d="M1144 701.8L1832 634.8" stroke="#ff8040" fill="none"/>
<path d="M1298.4 694L1441.8 670.8" stroke="#ff8080" fill="none"/>
<path d="M1301 761L1441.8 736.8M1141.8 802.9L1832 736.7" stroke="#00ff00" fill="none"/>
<rect x="1" y="1" width="90" height="17" fill="#fff"/>
<text x="6" y="13.2" fill="#000">24.04.25</text>
<text x="148.5" y="49.2" font-size="13" font-weight="bold" fill="#000" textLength="136.5" lengthAdjust="spacingAndGlyphs">LITECOIN (LTC) USD</text>
<text x="357.3" y="54" font-family="Liberation Serif, serif" font-size="13" fill="#000" textLength="1103" lengthAdjust="spacingAndGlyphs">Haftungsausschluss für Inhalte: Alle Trendkanäle bzw. andere Linien, oder Grafiken hier sind keine Empfehlungen, oder Beratung, sondern die zeigen lediglich meine eigene Einschätzung. Alle Chartdaten sind ohne Gewähr.  www.wikifolio.com/de/de/p/cyberwaehrungen</text>
<text x="734.2" y="229.8" fill="#1e84a0" textLength="144" lengthAdjust="spacingAndGlyphs">Durchbruch nach oben! &gt;&gt;</text>
<text x="655" y="622.5" fill="#1e84a0" textLength="144" lengthAdjust="spacingAndGlyphs">Durchbruch nach oben! &gt;&gt;</text>
<path d="M0 839.5H1915" stroke="#c0c0c0" fill="none"/>
<path d="M4 864.5H1842M4 906.5H1842" stroke="#c0c0c0" stroke-dasharray="3 3" fill="none"/>
<path d="M4 860.5H1838M4 885.5H1838M4 911.5H1838" stroke="#000" fill="none"/>
<polyline points="4.5,890.6 5.5,875.3 6.5,866.5 7.5,863.8 8.5,856.6 9.5,859.2 10.5,864.4 11.5,866.1 12.5,865.1 13.5,861.1 14.5,856.9 15.5,857.8 16.5,860.9 17.5,867.1 18.5,874.4 19.5,884.4 20.5,895.0 21.5,897.5 22.5,893.2 23.5,879.1 24.5,864.1 25.5,855.9 26.5,857.3 27.5,865.6 28.5,874.4 29.5,883.6 30.5,890.0 31.5,898.1 32.5,906.5 33.5,912.7 34.5,918.4 35.5,918.1 36.5,915.2 37.5,909.2 38.5,888.4 39.5,873.1 40.5,857.3 41.5,850.0 42.5,861.5 43.5,868.0 44.5,873.2 45.5,871.5 46.5,864.7 47.5,860.1 48.5,856.6 49.5,854.0 50.5,850.7 51.5,846.9 52.5,846.9 53.5,849.4 54.5,855.2 55.5,860.6 56.5,860.5 57.5,858.1 58.5,856.2 59.5,854.2 60.5,857.6 61.5,864.1 62.5,864.0 63.5,866.6 64.5,865.0 65.5,860.1 66.5,860.9 67.5,858.0 68.5,856.8 69.5,857.4 70.5,861.5 71.5,868.6 72.5,875.3 73.5,883.7 74.5,889.7 75.5,894.7 76.5,898.3 77.5,899.7 78.5,897.8 79.5,893.5 80.5,898.6 81.5,901.8 82.5,906.6 83.5,913.1 84.5,911.8 85.5,910.2 86.5,907.5 87.5,902.1 88.5,898.6 89.5,897.3 90.5,897.1 91.5,898.8 92.5,898.2 93.5,896.2 94.5,894.8 95.5,897.1 96.5,900.1 97.5,905.3 98.5,902.0 99.5,898.5 100.5,892.6 101.5,886.0 102.5,883.6 103.5,878.8 104.5,872.9 105.5,866.4 106.5,862.5 107.5,858.3 108.5,856.5 109.5,856.4 110.5,859.1 111.5,864.2 112.5,868.3 113.5,872.9 114.5,877.5 115.5,882.2 116.5,888.8 117.5,894.7 118.5,901.1 119.5,904.7 120.5,909.5 121.5,914.3 122.5,916.5 123.5,918.2 124.5,917.3 125.5,916.0 126.5,914.7 127.5,912.5 128.5,908.6 129.5,905.5 130.5,903.1 131.5,904.8 132.5,908.2 133.5,910.6 134.5,914.2 135.5,916.0 136.5,914.0 137.5,914.5 138.5,914.1 139.5,913.2 140.5,917.0 141.5,914.9 142.5,911.5 143.5,907.6 144.5,899.8 145.5,893.3 146.5,881.9 147.5,872.3 148.5,865.7 149.5,859.1 150.5,857.9 151.5,859.9 152.5,863.6 153.5,868.2 154.5,874.8 155.5,876.5 156.5,876.2 157.5,874.3 158.5,870.6 159.5,870.4 160.5,871.1 161.5,879.4 162.5,888.4 163.5,898.4 164.5,910.2 165.5,915.0 166.5,919.9 167.5,920.1 168.5,919.2 169.5,919.5 170.5,919.8 171.5,919.2 172.5,918.2 173.5,916.7 174.5,912.3 175.5,910.0 176.5,905.4 177.5,900.5 178.5,898.1 179.5,895.8 180.5,892.4 181.5,891.0 182.5,896.0 183.5,901.5 184.5,910.5 185.5,916.5 186.5,916.1 187.5,914.6 188.5,912.8 189.5,913.0 190.5,915.2 191.5,916.6 192.5,915.6 193.5,914.0 194.5,910.4 195.5,911.1 196.5,913.5 197.5,913.0 198.5,912.3 199.5,907.0 200.5,898.1 201.5,886.9 202.5,876.1 203.5,868.0 204.5,863.6 205.5,864.4 206.5,867.6 207.5,871.2 208.5,877.5 209.5,887.7 210.5,896.6 211.5,901.5 212.5,906.3 213.5,907.6 214.5,910.8 215.5,915.7 216.5,918.7 217.5,921.2 218.5,919.9 219.5,918.6 220.5,918.9 221.5,920.2 222.5,921.4 223.5,922.6 224.5,922.2 225.5,921.7 226.5,919.7 227.5,918.2 228.5,916.2 229.5,909.0 230.5,901.9 231.5,888.8 232.5,880.1 233.5,875.0 234.5,870.2 235.5,870.2 236.5,873.0 237.5,880.0 238.5,890.0 239.5,906.1 240.5,916.5 241.5,920.0 242.5,922.6 243.5,918.4 244.5,912.8 245.5,910.1 246.5,902.6 247.5,894.0 248.5,881.4 249.5,868.4 250.5,863.8 251.5,860.3 252.5,860.0 253.5,865.9 254.5,868.0 255.5,873.2 256.5,883.8 257.5,893.3 258.5,900.3 259.5,907.8 260.5,912.3 261.5,911.0 262.5,913.4 263.5,914.7 264.5,913.1 265.5,916.0 266.5,915.8 267.5,915.0 268.5,914.6 269.5,913.1 270.5,913.4 271.5,913.4 272.5,911.5 273.5,909.1 274.5,905.2 275.5,899.2 276.5,890.9 277.5,881.5 278.5,868.6 279.5,862.1 280.5,864.3 281.5,871.9 282.5,887.0 283.5,899.0 284.5,909.8 285.5,914.6 286.5,918.1 287.5,921.7 288.5,923.0 289.5,923.5 290.5,922.6 291.5,920.1 292.5,916.9 293.5,914.2 294.5,910.8 295.5,910.6 296.5,913.0 297.5,918.3 298.5,921.9 299.5,924.3 300.5,924.6 301.5,924.7 302.5,925.4 303.5,925.3 304.5,922.8 305.5,911.8 306.5,899.1 307.5,882.7 308.5,865.4 309.5,858.8 310.5,854.3 311.5,855.5 312.5,857.9 313.5,856.5 314.5,857.4 315.5,855.9 316.5,858.9 317.5,867.1 318.5,878.2 319.5,890.1 320.5,901.0 321.5,908.0 322.5,910.2 323.5,911.7 324.5,911.8 325.5,910.2 326.5,906.6 327.5,905.4 328.5,900.3 329.5,896.2 330.5,890.5 331.5,879.9 332.5,873.8 333.5,867.0 334.5,863.9 335.5,864.0 336.5,861.9 337.5,859.3 338.5,856.9 339.5,853.3 340.5,850.7 341.5,850.0 342.5,848.6 343.5,850.7 344.5,857.1 345.5,865.0 346.5,876.2 347.5,882.9 348.5,888.5 349.5,891.0 350.5,890.7 351.5,886.1 352.5,877.2 353.5,870.0 354.5,863.6 355.5,861.3 356.5,861.5 357.5,857.9 358.5,854.1 359.5,850.0 360.5,848.6 361.5,850.5 362.5,855.0 363.5,863.3 364.5,869.2 365.5,872.7 366.5,874.8 367.5,875.4 368.5,870.7 369.5,866.7 370.5,869.8 371.5,867.5 372.5,869.4 373.5,873.0 374.5,869.1 375.5,871.8 376.5,876.7 377.5,880.1 378.5,883.3 379.5,884.5 380.5,887.2 381.5,892.2 382.5,897.9 383.5,904.8 384.5,905.8 385.5,904.4 386.5,902.0 387.5,899.6 388.5,898.6 389.5,895.1 390.5,890.8 391.5,884.3 392.5,878.4 393.5,872.5 394.5,868.4 395.5,866.3 396.5,861.8 397.5,862.8 398.5,863.9 399.5,870.9 400.5,876.9 401.5,879.3 402.5,882.8 403.5,877.7 404.5,873.2 405.5,863.4 406.5,859.6 407.5,856.4 408.5,858.4 409.5,868.9 410.5,871.8 411.5,877.3 412.5,882.5 413.5,884.6 414.5,882.6 415.5,876.5 416.5,868.6 417.5,863.3 418.5,862.9 419.5,863.9 420.5,864.8 421.5,865.8 422.5,863.9 423.5,863.7 424.5,865.3 425.5,870.6 426.5,881.6 427.5,890.7 428.5,901.4 429.5,905.7 430.5,905.5 431.5,907.4 432.5,906.3 433.5,906.6 434.5,907.7 435.5,910.9 436.5,916.5 437.5,919.7 438.5,921.7 439.5,915.4 440.5,905.6 441.5,899.4 442.5,893.2 443.5,892.4 444.5,894.4 445.5,893.2 446.5,891.9 447.5,887.4 448.5,880.5 449.5,879.8 450.5,875.8 451.5,874.9 452.5,875.0 453.5,872.5 454.5,880.6 455.5,891.8 456.5,903.1 457.5,911.9 458.5,914.8 459.5,915.6 460.5,917.8 461.5,919.3 462.5,920.7 463.5,920.5 464.5,918.7 465.5,918.1 466.5,917.4 467.5,916.5 468.5,914.0 469.5,914.5 470.5,914.9 471.5,913.6 472.5,911.7 473.5,905.5 474.5,898.2 475.5,890.8 476.5,880.9 477.5,872.0 478.5,863.6 479.5,857.0 480.5,856.7 481.5,854.5 482.5,859.1 483.5,868.2 484.5,883.0 485.5,899.3 486.5,908.7 487.5,913.2 488.5,912.8 489.5,913.0 490.5,913.2 491.5,913.5 492.5,911.0 493.5,907.3 494.5,898.9 495.5,888.1 496.5,877.9 497.5,869.4 498.5,869.0 499.5,878.1 500.5,890.1 501.5,898.2 502.5,906.6 503.5,908.9 504.5,908.3 505.5,910.3 506.5,904.3 507.5,888.0 508.5,873.7 509.5,859.0 510.5,849.2 511.5,850.6 512.5,849.7 513.5,852.6 514.5,854.2 515.5,854.9 516.5,858.3 517.5,862.2 518.5,873.4 519.5,888.1 520.5,900.8 521.5,909.4 522.5,913.5 523.5,916.2 524.5,920.6 525.5,925.4 526.5,925.4 527.5,925.1 528.5,920.0 529.5,913.4 530.5,912.0 531.5,912.3 532.5,912.8 533.5,916.5 534.5,916.6 535.5,913.9 536.5,912.5 537.5,906.5 538.5,907.9 539.5,909.6 540.5,908.5 541.5,910.1 542.5,906.0 543.5,900.2 544.5,896.1 545.5,890.4 546.5,885.7 547.5,879.8 548.5,874.0 549.5,868.1 550.5,864.6 551.5,867.2 552.5,865.4 553.5,865.4 554.5,864.1 555.5,860.2 556.5,857.1 557.5,853.0 558.5,848.8 559.5,848.5 560.5,849.9 561.5,850.2 562.5,851.8 563.5,850.5 564.5,853.0 565.5,858.9 566.5,866.9 567.5,877.3 568.5,879.2 569.5,879.6 570.5,872.6 571.5,862.6 572.5,860.4 573.5,857.0 574.5,858.3 575.5,857.0 576.5,854.2 577.5,851.5 578.5,847.2 579.5,847.6 580.5,847.8 581.5,854.3 582.5,864.9 583.5,875.6 584.5,888.6 585.5,893.9 586.5,896.5 587.5,898.4 588.5,902.2 589.5,907.1 590.5,912.3 591.5,915.7 592.5,915.8 593.5,914.7 594.5,913.0 595.5,913.9 596.5,914.3 597.5,915.6 598.5,915.8 599.5,915.0 600.5,914.0 601.5,914.2 602.5,914.4 603.5,912.8 604.5,910.5 605.5,905.2 606.5,899.8 607.5,888.3 608.5,874.6 609.5,863.8 610.5,855.7 611.5,857.4 612.5,862.6 613.5,866.9 614.5,868.9 615.5,864.6 616.5,863.4 617.5,865.3 618.5,872.6 619.5,887.7 620.5,898.0 621.5,906.4 622.5,910.6 623.5,910.2 624.5,907.7 625.5,903.0 626.5,889.6 627.5,875.5 628.5,866.4 629.5,858.9 630.5,857.0 631.5,858.9 632.5,861.4 633.5,867.4 634.5,879.2 635.5,888.9 636.5,899.5 637.5,905.7 638.5,909.7 639.5,911.7 640.5,909.3 641.5,904.8 642.5,899.0 643.5,887.4 644.5,879.3 645.5,874.0 646.5,867.9 647.5,868.4 648.5,866.8 649.5,864.7 650.5,865.0 651.5,867.3 652.5,865.7 653.5,869.3 654.5,875.2 655.5,886.0 656.5,901.1 657.5,911.2 658.5,918.0 659.5,919.5 660.5,920.8 661.5,922.7 662.5,922.0 663.5,919.0 664.5,913.8 665.5,909.5 666.5,908.7 667.5,908.0 668.5,912.5 669.5,916.7 670.5,915.9 671.5,911.0 672.5,898.5 673.5,885.6 674.5,877.4 675.5,870.4 676.5,867.7 677.5,866.1 678.5,864.2 679.5,868.7 680.5,876.8 681.5,889.4 682.5,900.9 683.5,905.8 684.5,905.1 685.5,896.1 686.5,884.2 687.5,876.2 688.5,866.2 689.5,860.1 690.5,853.6 691.5,849.3 692.5,849.0 693.5,846.9 694.5,848.1 695.5,849.8 696.5,852.7 697.5,858.3 698.5,870.4 699.5,882.3 700.5,891.9 701.5,892.4 702.5,884.6 703.5,877.6 704.5,870.4 705.5,872.9 706.5,879.6 707.5,884.8 708.5,891.3 709.5,895.8 710.5,898.3 711.5,896.7 712.5,894.4 713.5,897.8 714.5,904.6 715.5,912.1 716.5,921.6 717.5,924.0 718.5,923.4 719.5,923.5 720.5,922.2 721.5,921.3 722.5,919.8 723.5,919.3 724.5,914.4 725.5,911.6 726.5,909.8 727.5,904.8 728.5,903.6 729.5,901.8 730.5,896.9 731.5,895.0 732.5,891.9 733.5,883.6 734.5,878.1 735.5,870.5 736.5,868.3 737.5,869.4 738.5,869.9 739.5,870.8 740.5,868.7 741.5,870.3 742.5,878.6 743.5,887.3 744.5,896.3 745.5,891.1 746.5,879.3 747.5,867.9 748.5,859.9 749.5,862.0 750.5,866.5 751.5,874.8 752.5,879.6 753.5,885.0 754.5,887.4 755.5,886.7 756.5,883.0 757.5,879.0 758.5,871.8 759.5,866.7 760.5,863.0 761.5,858.5 762.5,862.2 763.5,860.2 764.5,861.5 765.5,861.8 766.5,856.9 767.5,858.6 768.5,859.4 769.5,867.3 770.5,873.8 771.5,881.2 772.5,885.1 773.5,880.7 774.5,879.7 775.5,875.9 776.5,875.5 777.5,879.2 778.5,884.4 779.5,894.6 780.5,899.5 781.5,897.5 782.5,889.3 783.5,876.4 784.5,864.7 785.5,860.1 786.5,858.1 787.5,858.9 788.5,858.6 789.5,857.3 790.5,857.8 791.5,852.9 792.5,852.1 793.5,854.7 794.5,856.8 795.5,856.3 796.5,856.1 797.5,854.5 798.5,855.7 799.5,863.7 800.5,872.7 801.5,880.2 802.5,884.8 803.5,887.3 804.5,885.9 805.5,886.2 806.5,886.9 807.5,886.3 808.5,887.6 809.5,892.3 810.5,890.5 811.5,891.9 812.5,890.8 813.5,883.1 814.5,880.7 815.5,874.7 816.5,867.1 817.5,862.9 818.5,860.2 819.5,854.2 820.5,857.3 821.5,857.2 822.5,856.1 823.5,859.3 824.5,856.5 825.5,854.4 826.5,855.2 827.5,858.4 828.5,872.0 829.5,888.4 830.5,902.0 831.5,914.5 832.5,917.3 833.5,916.4 834.5,914.1 835.5,909.8 836.5,905.0 837.5,893.8 838.5,880.6 839.5,867.7 840.5,863.6 841.5,865.1 842.5,870.0 843.5,879.6 844.5,881.5 845.5,890.4 846.5,901.4 847.5,907.7 848.5,913.1 849.5,912.1 850.5,905.5 851.5,899.5 852.5,889.7 853.5,878.4 854.5,871.3 855.5,865.0 856.5,860.9 857.5,858.7 858.5,856.2 859.5,852.4 860.5,853.8 861.5,856.0 862.5,858.6 863.5,863.9 864.5,869.0 865.5,874.8 866.5,882.9 867.5,888.5 868.5,893.3 869.5,894.3 870.5,893.6 871.5,892.5 872.5,887.4 873.5,881.7 874.5,871.6 875.5,863.2 876.5,856.6 877.5,853.5 878.5,859.6 879.5,865.2 880.5,871.2 881.5,881.8 882.5,890.6 883.5,901.7 884.5,910.3 885.5,917.7 886.5,919.6 887.5,916.9 888.5,917.0 889.5,914.9 890.5,912.8 891.5,912.2 892.5,910.9 893.5,908.3 894.5,903.8 895.5,901.2 896.5,901.0 897.5,903.9 898.5,907.0 899.5,907.3 900.5,905.4 901.5,900.0 902.5,894.6 903.5,892.9 904.5,896.8 905.5,904.2 906.5,909.9 907.5,913.3 908.5,911.6 909.5,907.5 910.5,904.9 911.5,903.2 912.5,898.0 913.5,889.8 914.5,886.8 915.5,878.2 916.5,873.5 917.5,874.5 918.5,873.8 919.5,879.3 920.5,886.9 921.5,893.3 922.5,901.0 923.5,906.4 924.5,907.7 925.5,902.6 926.5,896.2 927.5,885.5 928.5,875.1 929.5,867.5 930.5,861.2 931.5,857.4 932.5,856.6 933.5,857.4 934.5,856.6 935.5,858.8 936.5,855.7 937.5,856.3 938.5,855.3 939.5,854.7 940.5,858.5 941.5,858.8 942.5,860.1 943.5,861.4 944.5,860.9 945.5,860.6 946.5,860.7 947.5,864.2 948.5,866.4 949.5,872.6 950.5,881.5 951.5,889.0 952.5,900.8 953.5,905.9 954.5,908.5 955.5,904.4 956.5,907.4 957.5,909.2 958.5,911.8 959.5,917.3 960.5,912.5 961.5,911.2 962.5,909.1 963.5,906.6 964.5,906.1 965.5,907.8 966.5,910.7 967.5,914.3 968.5,917.0 969.5,918.3 970.5,918.6 971.5,919.7 972.5,920.4 973.5,918.3 974.5,913.5 975.5,900.7 976.5,888.0 977.5,872.1 978.5,860.6 979.5,856.2 980.5,852.8 981.5,855.7 982.5,855.7 983.5,856.8 984.5,857.4 985.5,858.1 986.5,860.7 987.5,867.5 988.5,874.7 989.5,882.8 990.5,889.3 991.5,894.7 992.5,896.0 993.5,892.3 994.5,887.7 995.5,877.7 996.5,871.4 997.5,864.5 998.5,863.9 999.5,863.5 1000.5,866.1 1001.5,870.6 1002.5,871.4 1003.5,875.0 1004.5,877.5 1005.5,883.9 1006.5,892.8 1007.5,902.8 1008.5,909.4 1009.5,912.4 1010.5,914.4 1011.5,912.4 1012.5,911.7 1013.5,912.4 1014.5,909.5 1015.5,908.0 1016.5,909.5 1017.5,911.0 1018.5,912.3 1019.5,913.7 1020.5,912.9 1021.5,913.6 1022.5,916.1 1023.5,917.7 1024.5,918.5 1025.5,917.2 1026.5,911.4 1027.5,903.4 1028.5,892.0 1029.5,881.1 1030.5,873.2 1031.5,872.0 1032.5,878.3 1033.5,887.5 1034.5,898.5 1035.5,904.7 1036.5,908.0 1037.5,907.4 1038.5,906.5 1039.5,910.2 1040.5,909.4 1041.5,906.5 1042.5,904.8 1043.5,892.8 1044.5,886.0 1045.5,881.5 1046.5,881.4 1047.5,890.7 1048.5,898.7 1049.5,908.1 1050.5,912.8 1051.5,913.4 1052.5,913.8 1053.5,913.9 1054.5,913.2 1055.5,911.5 1056.5,909.0 1057.5,900.7 1058.5,887.3 1059.5,876.9 1060.5,865.8 1061.5,861.7 1062.5,862.4 1063.5,864.1 1064.5,869.1 1065.5,874.9 1066.5,885.5 1067.5,898.2 1068.5,907.3 1069.5,915.8 1070.5,913.3 1071.5,907.6 1072.5,902.4 1073.5,893.2 1074.5,890.7 1075.5,889.4 1076.5,888.9 1077.5,890.5 1078.5,890.4 1079.5,885.9 1080.5,886.0 1081.5,882.9 1082.5,881.2 1083.5,877.3 1084.5,867.4 1085.5,859.2 1086.5,851.1 1087.5,848.5 1088.5,848.7 1089.5,852.5 1090.5,853.7 1091.5,855.3 1092.5,859.0 1093.5,858.7 1094.5,863.6 1095.5,870.0 1096.5,877.2 1097.5,892.3 1098.5,903.3 1099.5,912.3 1100.5,917.3 1101.5,916.8 1102.5,916.5 1103.5,914.7 1104.5,911.9 1105.5,907.3 1106.5,901.7 1107.5,893.7 1108.5,896.6 1109.5,896.6 1110.5,902.6 1111.5,912.6 1112.5,913.5 1113.5,918.5 1114.5,920.3 1115.5,914.4 1116.5,910.3 1117.5,905.8 1118.5,899.5 1119.5,901.9 1120.5,906.1 1121.5,907.1 1122.5,909.1 1123.5,908.7 1124.5,903.7 1125.5,902.5 1126.5,901.7 1127.5,897.9 1128.5,894.4 1129.5,889.6 1130.5,883.0 1131.5,889.2 1132.5,894.5 1133.5,896.6 1134.5,901.7 1135.5,901.4 1136.5,901.2 1137.5,907.8 1138.5,914.3 1139.5,917.3 1140.5,917.4 1141.5,913.8 1142.5,909.7 1143.5,904.9 1144.5,903.3 1145.5,900.5 1146.5,895.8 1147.5,890.2 1148.5,884.3 1149.5,879.1 1150.5,874.9 1151.5,867.4 1152.5,864.1 1153.5,866.0 1154.5,872.5 1155.5,888.0 1156.5,903.5 1157.5,914.3 1158.5,919.5 1159.5,918.6 1160.5,916.0 1161.5,913.9 1162.5,908.0 1163.5,897.5 1164.5,885.0 1165.5,871.8 1166.5,864.2 1167.5,863.1 1168.5,863.6 1169.5,865.7 1170.5,867.0 1171.5,866.2 1172.5,864.7 1173.5,866.2 1174.5,870.7 1175.5,878.3 1176.5,886.1 1177.5,889.7 1178.5,888.0 1179.5,887.2 1180.5,885.6 1181.5,882.7 1182.5,881.4 1183.5,879.9 1184.5,880.2 1185.5,887.8 1186.5,897.6 1187.5,903.2 1188.5,908.3 1189.5,910.3 1190.5,907.5 1191.5,908.3 1192.5,907.5 1193.5,903.8 1194.5,899.1 1195.5,891.6 1196.5,884.2 1197.5,879.4 1198.5,878.2 1199.5,879.2 1200.5,885.5 1201.5,887.4 1202.5,888.2 1203.5,892.2 1204.5,896.1 1205.5,904.7 1206.5,915.4 1207.5,920.2 1208.5,920.9 1209.5,920.0 1210.5,918.5 1211.5,918.0 1212.5,918.0 1213.5,913.2 1214.5,907.1 1215.5,896.2 1216.5,887.6 1217.5,882.9 1218.5,881.1 1219.5,886.4 1220.5,887.9 1221.5,893.7 1222.5,896.1 1223.5,898.7 1224.5,900.7 1225.5,897.7 1226.5,893.3 1227.5,884.7 1228.5,876.8 1229.5,867.4 1230.5,859.6 1231.5,857.4 1232.5,857.2 1233.5,860.0 1234.5,864.0 1235.5,866.6 1236.5,866.1 1237.5,863.2 1238.5,862.6 1239.5,870.7 1240.5,881.0 1241.5,888.6 1242.5,897.7 1243.5,897.0 1244.5,894.4 1245.5,896.5 1246.5,894.9 1247.5,891.5 1248.5,887.2 1249.5,876.7 1250.5,868.6 1251.5,859.7 1252.5,854.8 1253.5,856.1 1254.5,856.8 1255.5,856.5 1256.5,858.8 1257.5,860.2 1258.5,861.5 1259.5,866.2 1260.5,871.6 1261.5,878.7 1262.5,890.4 1263.5,900.1 1264.5,904.3 1265.5,911.0 1266.5,910.8 1267.5,912.9 1268.5,915.7 1269.5,913.4 1270.5,911.3 1271.5,905.8 1272.5,901.2 1273.5,896.9 1274.5,894.1 1275.5,887.9 1276.5,879.3 1277.5,874.7 1278.5,865.0 1279.5,859.8 1280.5,858.4 1281.5,853.2 1282.5,851.6 1283.5,850.1 1284.5,848.0 1285.5,847.9 1286.5,851.0 1287.5,856.0 1288.5,861.4 1289.5,864.1 1290.5,861.3 1291.5,862.3 1292.5,860.4 1293.5,861.5 1294.5,859.1 1295.5,858.2 1296.5,858.6 1297.5,857.7 1298.5,862.6 1299.5,861.8 1300.5,862.7 1301.5,866.8 1302.5,873.2 1303.5,887.5 1304.5,896.5 1305.5,896.0 1306.5,894.1 1307.5,885.0 1308.5,881.6 1309.5,887.8 1310.5,893.6 1311.5,899.0 1312.5,902.5 1313.5,903.6 1314.5,908.3 1315.5,910.3 1316.5,909.9 1317.5,912.4 1318.5,911.6 1319.5,912.9 1320.5,913.3 1321.5,909.2 1322.5,905.0 1323.5,900.0 1324.5,897.8 1325.5,895.1 1326.5,889.4 1327.5,881.7 1328.5,871.3 1329.5,863.6 1330.5,859.5 1331.5,859.7 1332.5,863.8 1333.5,867.7 1334.5,870.9 1335.5,871.7 1336.5,870.4 1337.5,869.1 1338.5,870.4 1339.5,875.0 1340.5,874.0 1341.5,872.5 1342.5,869.0 1343.5,863.8 1344.5,865.1 1345.5,862.9 1346.5,866.2 1347.5,873.9 1348.5,884.8 1349.5,902.2 1350.5,911.5 1351.5,917.3 1352.5,917.8 1353.5,915.9 1354.5,916.5 1355.5,915.5 1356.5,914.0 1357.5,911.4 1358.5,909.1 1359.5,909.9 1360.5,910.6 1361.5,912.8 1362.5,913.4 1363.5,909.9 1364.5,902.9 1365.5,890.8 1366.5,878.5 1367.5,867.1 1368.5,862.7 1369.5,863.8 1370.5,866.5 1371.5,871.4 1372.5,874.2 1373.5,876.2 1374.5,879.5 1375.5,876.8 1376.5,872.9 1377.5,875.3 1378.5,876.1 1379.5,886.6 1380.5,899.5 1381.5,907.5 1382.5,914.8 1383.5,914.6 1384.5,914.4 1385.5,911.8 1386.5,909.4 1387.5,905.4 1388.5,898.7 1389.5,889.5 1390.5,877.7 1391.5,868.9 1392.5,863.5 1393.5,861.5 1394.5,859.2 1395.5,857.6 1396.5,859.5 1397.5,860.9 1398.5,866.0 1399.5,872.2 1400.5,874.1 1401.5,877.5 1402.5,881.8 1403.5,884.8 1404.5,894.9 1405.5,903.8 1406.5,910.9 1407.5,916.7 1408.5,916.4 1409.5,916.5 1410.5,916.0 1411.5,917.8 1412.5,918.0 1413.5,915.2 1414.5,911.5 1415.5,905.4 1416.5,902.9 1417.5,904.1 1418.5,907.4 1419.5,914.8 1420.5,917.4 1421.5,918.9 1422.5,922.0 1423.5,921.8 1424.5,922.6 1425.5,922.2 1426.5,917.7 1427.5,913.9 1428.5,910.9 1429.5,907.4 1430.5,907.1 1431.5,905.2 1432.5,903.1 1433.5,901.6 1434.5,898.4 1435.5,893.8 1436.5,885.4 1437.5,880.0 1438.5,880.6 1439.5,886.6 1440.5,899.7 1441.5,909.6 1442.5,914.2 1443.5,913.6 1444.5,910.0 1445.5,904.9 1446.5,895.4 1447.5,887.0 1448.5,875.9 1449.5,866.5 1450.5,862.5 1451.5,860.9 1452.5,862.4 1453.5,863.5 1454.5,864.4 1455.5,865.9 1456.5,864.5 1457.5,870.1 1458.5,876.4 1459.5,884.3 1460.5,894.5 1461.5,901.2 1462.5,906.1 1463.5,907.6 1464.5,911.2 1465.5,912.0 1466.5,913.7 1467.5,916.9 1468.5,915.7 1469.5,902.7 1470.5,882.5 1471.5,864.0 1472.5,849.1 1473.5,848.1 1474.5,854.2 1475.5,857.7 1476.5,858.3 1477.5,855.5 1478.5,853.6 1479.5,851.8 1480.5,855.9 1481.5,860.5 1482.5,867.5 1483.5,872.5 1484.5,878.4 1485.5,886.9 1486.5,893.8 1487.5,904.7 1488.5,905.8 1489.5,909.7 1490.5,911.2 1491.5,907.7 1492.5,907.2 1493.5,900.1 1494.5,891.0 1495.5,883.2 1496.5,873.6 1497.5,866.4 1498.5,862.1 1499.5,856.7 1500.5,856.1 1501.5,857.0 1502.5,859.4 1503.5,865.1 1504.5,875.3 1505.5,885.2 1506.5,896.6 1507.5,907.7 1508.5,912.9 1509.5,916.9 1510.5,912.9 1511.5,910.8 1512.5,903.5 1513.5,896.1 1514.5,888.1 1515.5,878.7 1516.5,873.8 1517.5,873.9 1518.5,884.4 1519.5,890.8 1520.5,902.4 1521.5,908.0 1522.5,906.7 1523.5,902.7 1524.5,891.9 1525.5,883.2 1526.5,874.8 1527.5,873.1 1528.5,872.8 1529.5,875.1 1530.5,879.6 1531.5,884.2 1532.5,893.1 1533.5,900.8 1534.5,908.1 1535.5,913.6 1536.5,914.4 1537.5,911.5 1538.5,906.8 1539.5,901.6 1540.5,892.8 1541.5,883.2 1542.5,875.2 1543.5,864.9 1544.5,856.8 1545.5,851.3 1546.5,851.2 1547.5,855.8 1548.5,864.1 1549.5,876.0 1550.5,882.7 1551.5,890.7 1552.5,891.9 1553.5,883.7 1554.5,877.6 1555.5,869.9 1556.5,866.7 1557.5,868.1 1558.5,868.3 1559.5,863.7 1560.5,862.0 1561.5,859.0 1562.5,858.6 1563.5,864.5 1564.5,869.7 1565.5,880.4 1566.5,885.4 1567.5,894.1 1568.5,903.0 1569.5,907.4 1570.5,912.7 1571.5,908.6 1572.5,901.2 1573.5,888.2 1574.5,876.6 1575.5,868.3 1576.5,862.7 1577.5,865.9 1578.5,868.0 1579.5,872.3 1580.5,875.6 1581.5,878.0 1582.5,884.8 1583.5,891.9 1584.5,904.0 1585.5,910.8 1586.5,915.0 1587.5,917.8 1588.5,915.5 1589.5,919.2 1590.5,920.3 1591.5,917.7 1592.5,914.8 1593.5,908.8 1594.5,901.5 1595.5,895.6 1596.5,890.0 1597.5,888.6 1598.5,891.4 1599.5,894.6 1600.5,896.6 1601.5,896.4 1602.5,890.8 1603.5,885.8 1604.5,878.8 1605.5,870.9 1606.5,866.9 1607.5,863.3 1608.5,866.3 1609.5,866.2 1610.5,864.9 1611.5,865.8 1612.5,863.1 1613.5,868.3 1614.5,872.0 1615.5,874.4 1616.5,877.6 1617.5,881.3 1618.5,888.5 1619.5,891.2 1620.5,892.8 1621.5,890.9 1622.5,894.7 1623.5,901.7 1624.5,907.7 1625.5,908.8 1626.5,904.1 1627.5,903.0 1628.5,904.5 1629.5,907.8 1630.5,910.8 1631.5,909.9 1632.5,908.8 1633.5,907.8 1634.5,908.1 1635.5,904.0 1636.5,899.7 1637.5,891.5 1638.5,887.1 1639.5,891.9 1640.5,894.9 1641.5,902.7 1642.5,901.9 1643.5,895.6 1644.5,890.7 1645.5,883.7 1646.5,879.4 1647.5,874.8 1648.5,866.9 1649.5,861.7 1650.5,859.8 1651.5,858.4 1652.5,861.2 1653.5,862.2 1654.5,861.0 1655.5,862.6 1656.5,869.8 1657.5,883.7 1658.5,896.6 1659.5,910.8 1660.5,910.8 1661.5,905.1 1662.5,900.1 1663.5,891.0 1664.5,889.2 1665.5,886.4 1666.5,882.6 1667.5,874.9 1668.5,865.6 1669.5,858.3 1670.5,853.6 1671.5,854.0 1672.5,862.5 1673.5,875.2 1674.5,885.3 1675.5,892.3 1676.5,893.0 1677.5,889.6 1678.5,884.7 1679.5,879.5 1680.5,873.7 1681.5,867.6 1682.5,866.1 1683.5,872.5 1684.5,881.7 1685.5,889.1 1686.5,891.1 1687.5,891.1 1688.5,886.1 1689.5,882.9 1690.5,877.5 1691.5,867.7 1692.5,861.5 1693.5,852.8 1694.5,852.6 1695.5,854.1 1696.5,859.8 1697.5,872.1 1698.5,883.9 1699.5,896.9 1700.5,904.0 1701.5,907.1 1702.5,905.7 1703.5,902.3 1704.5,897.9 1705.5,892.0 1706.5,882.0 1707.5,871.0 1708.5,863.1 1709.5,855.3 1710.5,852.6 1711.5,853.5 1712.5,858.1 1713.5,861.9 1714.5,868.4 1715.5,871.9 1716.5,871.7 1717.5,871.3 1718.5,871.7 1719.5,880.3 1720.5,893.0 1721.5,903.4 1722.5,904.3 1723.5,895.8 1724.5,878.7 1725.5,866.5 1726.5,858.9 1727.5,852.3 1728.5,852.3 1729.5,852.8 1730.5,854.7 1731.5,856.6 1732.5,857.4 1733.5,855.8 1734.5,854.7 1735.5,853.3 1736.5,853.4 1737.5,855.3 1738.5,856.7 1739.5,858.4 1740.5,856.9 1741.5,858.6 1742.5,863.4 1743.5,872.3 1744.5,880.5 1745.5,886.2 1746.5,889.6 1747.5,890.0 1748.5,890.3 1749.5,889.3 1750.5,889.9 1751.5,883.4 1752.5,882.8 1753.5,883.7 1754.5,882.7 1755.5,890.0 1756.5,892.4 1757.5,895.2 1758.5,896.5 1759.5,895.6 1760.5,890.5 1761.5,882.0 1762.5,876.7 1763.5,873.9 1764.5,880.2 1765.5,889.6 1766.5,896.6 1767.5,895.3 1768.5,887.8 1769.5,875.9 1770.5,870.1 1771.5,872.9 1772.5,875.4 1773.5,882.9 1774.5,885.3 1775.5,885.2 1776.5,887.0 1777.5,889.7 1778.5,894.2 1779.5,899.7 1780.5,896.2 1781.5,893.1 1782.5,888.7 1783.5,883.7 1784.5,886.0 1785.5,882.9 1786.5,877.2 1787.5,871.8 1788.5,865.8 1789.5,861.1 1790.5,858.8 1791.5,855.9 1792.5,855.9 1793.5,861.3 1794.5,866.1 1795.5,876.7 1796.5,889.6 1797.5,893.8 1798.5,901.2 1799.5,903.8 1800.5,906.4 1801.5,914.1 1802.5,918.0 1803.5,922.2 1804.5,919.7 1805.5,918.1 1806.5,916.8 1807.5,914.5 1808.5,914.6 1809.5,912.5 1810.5,909.1 1811.5,901.4 1812.5,894.0 1813.5,884.6 1814.5,879.7 1815.5,886.9 1816.5,894.8 1817.5,908.8 1818.5,917.7 1819.5,918.3 1820.5,918.4 1821.5,915.2 1822.5,913.1 1823.5,912.2 1824.5,910.0 1825.5,905.2 1826.5,899.7 1827.5,890.1 1828.5,883.0 1829.5,877.9 1830.5,872.5 1831.5,868.3 1832.5,866.5" stroke="#000" fill="none"/>
<polyline points="4.5,890.6 5.5,890.6 6.5,883.0 7.5,877.5 8.5,874.1 9.5,865.6 10.5,861.5 11.5,861.0 12.5,861.6 13.5,863.7 14.5,864.2 15.5,862.3 16.5,860.2 17.5,859.2 18.5,860.7 19.5,865.1 20.5,871.7 21.5,880.2 22.5,887.8 23.5,892.5 24.5,891.2 25.5,883.5 26.5,873.1 27.5,864.1 28.5,860.7 29.5,863.3 30.5,870.2 31.5,878.4 32.5,886.5 33.5,894.6 34.5,901.8 35.5,908.9 36.5,913.9 37.5,916.1 38.5,915.2 39.5,907.7 40.5,896.5 41.5,882.0 42.5,867.2 43.5,860.5 44.5,859.2 45.5,863.2 46.5,868.6 47.5,869.4 48.5,867.4 49.5,863.2 50.5,858.8 51.5,855.3 52.5,852.1 53.5,849.6 54.5,848.5 55.5,849.6 56.5,853.0 57.5,856.4 58.5,858.6 59.5,858.9 60.5,857.2 61.5,856.5 62.5,858.0 63.5,860.0 64.5,863.1 65.5,864.9 66.5,863.9 67.5,863.1 68.5,861.0 69.5,858.9 70.5,858.3 71.5,858.4 72.5,861.1 73.5,865.7 74.5,872.3 75.5,879.3 76.5,885.8 77.5,891.6 78.5,895.6 79.5,897.6 80.5,897.3 81.5,897.4 82.5,897.9 83.5,900.2 84.5,905.1 85.5,908.4 86.5,910.5 87.5,910.7 88.5,907.9 89.5,904.6 90.5,901.4 91.5,898.8 92.5,897.9 93.5,897.8 94.5,897.6 95.5,897.0 96.5,896.6 97.5,897.0 98.5,899.3 99.5,901.1 100.5,901.5 101.5,899.6 102.5,894.8 103.5,890.2 104.5,885.3 105.5,880.3 106.5,875.4 107.5,870.1 108.5,865.0 109.5,860.9 110.5,858.4 111.5,857.6 112.5,859.0 113.5,862.0 114.5,866.1 115.5,870.7 116.5,875.2 117.5,880.4 118.5,885.8 119.5,891.7 120.5,897.3 121.5,902.5 122.5,907.4 123.5,911.3 124.5,914.6 125.5,916.6 126.5,917.0 127.5,916.6 128.5,915.1 129.5,913.0 130.5,910.3 131.5,907.4 132.5,905.5 133.5,905.4 134.5,906.7 135.5,909.5 136.5,912.2 137.5,913.7 138.5,914.7 139.5,914.6 140.5,913.9 141.5,914.7 142.5,914.8 143.5,914.2 144.5,912.7 145.5,908.5 146.5,903.0 147.5,895.6 148.5,886.8 149.5,878.3 150.5,869.8 151.5,863.8 152.5,860.6 153.5,860.1 154.5,862.4 155.5,866.6 156.5,870.8 157.5,873.9 158.5,875.4 159.5,874.4 160.5,872.9 161.5,871.6 162.5,872.9 163.5,877.3 164.5,884.3 165.5,894.1 166.5,903.0 167.5,910.9 168.5,916.3 169.5,918.6 170.5,919.7 171.5,919.7 172.5,919.4 173.5,919.2 174.5,918.5 175.5,916.6 176.5,914.3 177.5,911.1 178.5,907.1 179.5,903.5 180.5,899.9 181.5,896.7 182.5,894.3 183.5,893.8 184.5,895.2 185.5,899.8 186.5,906.1 187.5,911.1 188.5,914.4 189.5,915.0 190.5,914.1 191.5,913.9 192.5,914.4 193.5,915.1 194.5,915.3 195.5,914.1 196.5,912.8 197.5,912.2 198.5,912.0 199.5,912.5 200.5,911.4 201.5,907.6 202.5,901.1 203.5,892.0 204.5,882.3 205.5,873.7 206.5,868.0 207.5,865.9 208.5,866.7 209.5,870.2 210.5,876.0 211.5,883.2 212.5,890.8 213.5,898.0 214.5,903.0 215.5,906.5 216.5,910.1 217.5,913.2 218.5,916.6 219.5,918.9 220.5,919.6 221.5,919.6 222.5,919.4 223.5,919.8 224.5,920.8 225.5,921.6 226.5,922.0 227.5,921.5 228.5,920.4 229.5,918.9 230.5,915.8 231.5,911.3 232.5,904.0 233.5,895.0 234.5,886.5 235.5,878.5 236.5,873.9 237.5,872.1 238.5,873.3 239.5,878.3 240.5,887.3 241.5,898.1 242.5,908.1 243.5,916.3 244.5,919.4 245.5,918.4 246.5,916.0 247.5,911.0 248.5,904.9 249.5,897.0 250.5,886.6 251.5,876.9 252.5,868.5 253.5,863.1 254.5,862.5 255.5,863.6 256.5,866.8 257.5,872.7 258.5,879.5 259.5,887.6 260.5,896.3 261.5,903.4 262.5,907.8 263.5,911.1 264.5,912.9 265.5,913.1 266.5,914.3 267.5,914.9 268.5,915.0 269.5,915.3 270.5,914.6 271.5,914.0 272.5,913.6 273.5,912.9 274.5,911.8 275.5,909.8 276.5,906.2 277.5,901.1 278.5,894.2 279.5,885.1 280.5,875.8 281.5,869.2 282.5,866.7 283.5,871.3 284.5,880.6 285.5,891.9 286.5,902.6 287.5,910.4 288.5,916.1 289.5,919.3 290.5,921.6 291.5,922.7 292.5,922.3 293.5,920.8 294.5,918.4 295.5,915.5 296.5,913.1 297.5,912.1 298.5,913.2 299.5,916.0 300.5,919.4 301.5,922.3 302.5,923.9 303.5,924.7 304.5,925.0 305.5,924.5 306.5,921.3 307.5,914.7 308.5,904.1 309.5,889.8 310.5,876.5 311.5,865.3 312.5,858.5 313.5,856.6 314.5,856.0 315.5,856.8 316.5,856.9 317.5,857.2 318.5,859.8 319.5,865.0 320.5,873.6 321.5,884.1 322.5,894.3 323.5,902.3 324.5,907.7 325.5,910.4 326.5,911.0 327.5,910.1 328.5,908.5 329.5,905.6 330.5,902.1 331.5,898.1 332.5,891.7 333.5,885.1 334.5,877.8 335.5,871.1 336.5,867.2 337.5,864.2 338.5,862.3 339.5,860.5 340.5,857.8 341.5,855.0 342.5,852.7 343.5,850.6 344.5,850.0 345.5,851.6 346.5,855.3 347.5,862.2 348.5,870.3 349.5,878.1 350.5,884.6 351.5,888.3 352.5,889.1 353.5,886.3 354.5,881.0 355.5,874.2 356.5,868.0 357.5,864.1 358.5,861.1 359.5,858.7 360.5,855.9 361.5,852.6 362.5,850.8 363.5,851.0 364.5,854.3 365.5,859.5 366.5,865.0 367.5,870.0 368.5,873.0 369.5,873.4 370.5,871.9 371.5,870.7 372.5,868.7 373.5,868.3 374.5,869.9 375.5,869.8 376.5,870.8 377.5,872.7 378.5,874.4 379.5,878.0 380.5,881.1 381.5,883.8 382.5,886.8 383.5,890.5 384.5,895.5 385.5,900.2 386.5,903.2 387.5,904.2 388.5,902.9 389.5,901.1 390.5,898.8 391.5,896.0 392.5,892.2 393.5,887.2 394.5,881.5 395.5,875.9 396.5,871.4 397.5,867.2 398.5,864.8 399.5,863.7 400.5,864.8 401.5,868.6 402.5,872.7 403.5,877.5 404.5,879.2 405.5,878.2 406.5,874.3 407.5,868.5 408.5,863.1 409.5,859.4 410.5,860.8 411.5,863.9 412.5,869.1 413.5,875.1 414.5,879.0 415.5,881.8 416.5,881.5 417.5,878.1 418.5,872.7 419.5,867.8 420.5,864.7 421.5,863.7 422.5,864.3 423.5,864.6 424.5,864.6 425.5,864.7 426.5,865.9 427.5,870.3 428.5,877.1 429.5,886.1 430.5,894.8 431.5,900.8 432.5,905.0 433.5,906.2 434.5,906.4 435.5,907.0 436.5,907.9 437.5,910.4 438.5,913.7 439.5,917.2 440.5,918.3 441.5,915.6 442.5,910.5 443.5,903.4 444.5,897.6 445.5,894.8 446.5,893.3 447.5,893.0 448.5,891.7 449.5,888.2 450.5,884.9 451.5,880.9 452.5,877.7 453.5,876.4 454.5,874.6 455.5,875.8 456.5,880.0 457.5,887.0 458.5,896.8 459.5,905.4 460.5,911.3 461.5,915.0 462.5,916.9 463.5,918.4 464.5,919.6 465.5,919.8 466.5,919.5 467.5,918.7 468.5,917.7 469.5,916.5 470.5,915.6 471.5,915.0 472.5,914.3 473.5,913.7 474.5,911.4 475.5,907.3 476.5,901.5 477.5,893.8 478.5,885.5 479.5,876.8 480.5,868.4 481.5,862.3 482.5,858.0 483.5,856.8 484.5,859.6 485.5,866.2 486.5,877.4 487.5,889.8 488.5,901.0 489.5,908.5 490.5,911.9 491.5,913.0 492.5,913.1 493.5,912.7 494.5,911.3 495.5,907.7 496.5,901.3 497.5,893.0 498.5,883.6 499.5,876.1 500.5,873.6 501.5,876.6 502.5,883.8 503.5,893.3 504.5,901.0 505.5,905.5 506.5,908.5 507.5,907.9 508.5,902.7 509.5,894.1 510.5,881.3 511.5,867.5 512.5,858.1 513.5,852.1 514.5,850.5 515.5,851.8 516.5,852.8 517.5,855.0 518.5,857.4 519.5,862.2 520.5,870.5 521.5,881.1 522.5,892.9 523.5,903.0 524.5,910.0 525.5,914.9 526.5,918.9 527.5,921.9 528.5,924.1 529.5,924.0 530.5,920.9 531.5,917.6 532.5,914.4 533.5,912.6 534.5,913.4 535.5,914.6 536.5,915.0 537.5,914.9 538.5,912.4 539.5,910.2 540.5,909.1 541.5,908.1 542.5,909.0 543.5,908.5 544.5,906.2 545.5,903.1 546.5,898.2 547.5,893.1 548.5,888.0 549.5,882.5 550.5,876.9 551.5,871.6 552.5,868.5 553.5,866.3 554.5,865.7 555.5,865.5 556.5,863.8 557.5,861.7 558.5,858.6 559.5,854.8 560.5,851.9 561.5,850.1 562.5,849.4 563.5,850.1 564.5,850.6 565.5,851.4 566.5,853.5 567.5,857.3 568.5,864.0 569.5,870.6 570.5,875.8 571.5,877.2 572.5,873.5 573.5,868.8 574.5,863.1 575.5,859.6 576.5,858.2 577.5,856.6 578.5,855.3 579.5,852.5 580.5,850.1 581.5,848.5 582.5,849.2 583.5,853.7 584.5,860.7 585.5,870.9 586.5,880.7 587.5,888.6 588.5,894.4 589.5,897.8 590.5,901.1 591.5,905.0 592.5,909.4 593.5,912.7 594.5,914.6 595.5,914.8 596.5,914.3 597.5,914.0 598.5,914.2 599.5,914.9 600.5,915.2 601.5,915.1 602.5,914.7 603.5,914.4 604.5,913.8 605.5,913.0 606.5,910.7 607.5,907.1 608.5,900.9 609.5,892.0 610.5,881.6 611.5,870.6 612.5,862.9 613.5,859.9 614.5,860.7 615.5,864.0 616.5,865.8 617.5,865.9 618.5,865.5 619.5,866.5 620.5,872.3 621.5,880.9 622.5,891.2 623.5,900.7 624.5,906.3 625.5,908.7 626.5,907.9 627.5,902.6 628.5,894.0 629.5,883.6 630.5,872.6 631.5,864.5 632.5,860.3 633.5,859.1 634.5,861.2 635.5,866.7 636.5,874.2 637.5,883.8 638.5,893.3 639.5,901.0 640.5,906.7 641.5,909.1 642.5,908.9 643.5,906.2 644.5,900.1 645.5,892.6 646.5,884.9 647.5,877.2 648.5,872.4 649.5,869.3 650.5,867.0 651.5,866.2 652.5,866.0 653.5,865.7 654.5,866.8 655.5,869.4 656.5,874.1 657.5,882.9 658.5,893.4 659.5,904.1 660.5,912.5 661.5,917.4 662.5,920.3 663.5,921.3 664.5,921.1 665.5,919.4 666.5,916.1 667.5,912.7 668.5,910.0 669.5,909.7 670.5,911.5 671.5,913.3 672.5,914.0 673.5,910.5 674.5,902.7 675.5,893.1 676.5,883.0 677.5,875.3 678.5,870.4 679.5,867.1 680.5,866.7 681.5,869.0 682.5,874.8 683.5,884.0 684.5,893.2 685.5,900.3 686.5,901.9 687.5,897.8 688.5,890.4 689.5,880.7 690.5,871.7 691.5,864.0 692.5,857.3 693.5,853.0 694.5,849.7 695.5,848.3 696.5,848.5 697.5,849.4 698.5,852.2 699.5,857.8 700.5,865.9 701.5,875.7 702.5,884.3 703.5,887.8 704.5,886.6 705.5,881.2 706.5,876.4 707.5,875.1 708.5,876.9 709.5,882.1 710.5,887.9 711.5,892.5 712.5,895.5 713.5,896.3 714.5,896.8 715.5,898.4 716.5,902.2 717.5,909.0 718.5,915.6 719.5,920.3 720.5,923.1 721.5,923.3 722.5,922.6 723.5,921.7 724.5,920.6 725.5,918.7 726.5,916.3 727.5,913.8 728.5,910.1 729.5,907.5 730.5,905.0 731.5,901.8 732.5,899.3 733.5,896.4 734.5,891.8 735.5,887.1 736.5,881.0 737.5,875.1 738.5,871.6 739.5,869.5 740.5,869.6 741.5,869.7 742.5,869.9 743.5,872.1 744.5,876.2 745.5,883.1 746.5,888.3 747.5,888.5 748.5,883.7 749.5,874.6 750.5,867.3 751.5,864.1 752.5,865.8 753.5,870.7 754.5,876.5 755.5,881.7 756.5,884.7 757.5,885.5 758.5,884.0 759.5,880.1 760.5,875.1 761.5,870.1 762.5,865.0 763.5,862.6 764.5,861.0 765.5,860.6 766.5,861.4 767.5,860.1 768.5,859.7 769.5,859.2 770.5,860.6 771.5,864.8 772.5,870.4 773.5,876.8 774.5,880.2 775.5,881.7 776.5,880.3 777.5,878.0 778.5,877.6 779.5,878.7 780.5,883.4 781.5,889.4 782.5,894.0 783.5,895.3 784.5,890.7 785.5,882.0 786.5,872.6 787.5,864.8 788.5,860.4 789.5,858.9 790.5,858.2 791.5,858.1 792.5,856.6 793.5,855.0 794.5,854.4 795.5,854.1 796.5,855.0 797.5,856.0 798.5,855.9 799.5,855.7 800.5,857.5 801.5,861.6 802.5,868.0 803.5,875.3 804.5,881.2 805.5,884.5 806.5,886.1 807.5,886.6 808.5,886.3 809.5,886.8 810.5,888.3 811.5,889.2 812.5,890.6 813.5,891.4 814.5,889.1 815.5,886.6 816.5,882.3 817.5,876.4 818.5,871.3 819.5,866.2 820.5,861.1 821.5,858.6 822.5,857.2 823.5,856.2 824.5,857.5 825.5,857.3 826.5,856.6 827.5,856.4 828.5,856.1 829.5,860.0 830.5,868.5 831.5,880.2 832.5,894.2 833.5,905.6 834.5,912.6 835.5,915.6 836.5,914.4 837.5,911.3 838.5,905.7 839.5,897.3 840.5,886.8 841.5,876.4 842.5,869.3 843.5,866.6 844.5,869.6 845.5,874.1 846.5,880.4 847.5,888.2 848.5,895.2 849.5,903.1 850.5,908.5 851.5,909.6 852.5,907.5 853.5,901.7 854.5,893.3 855.5,884.7 856.5,876.1 857.5,868.9 858.5,864.0 859.5,860.2 860.5,857.1 861.5,855.3 862.5,854.6 863.5,855.2 864.5,858.1 865.5,861.9 866.5,866.6 867.5,872.7 868.5,878.8 869.5,884.9 870.5,889.7 871.5,892.4 872.5,893.4 873.5,891.9 874.5,888.8 875.5,883.3 876.5,876.0 877.5,868.3 878.5,861.2 879.5,858.2 880.5,858.7 881.5,862.4 882.5,869.5 883.5,877.2 884.5,886.3 885.5,896.1 886.5,905.1 887.5,912.3 888.5,916.1 889.5,917.8 890.5,917.1 891.5,915.4 892.5,914.2 893.5,912.7 894.5,911.1 895.5,908.8 896.5,906.1 897.5,903.6 898.5,902.5 899.5,903.3 900.5,904.8 901.5,905.9 902.5,904.9 903.5,901.8 904.5,898.3 905.5,896.1 906.5,897.2 907.5,901.0 908.5,906.0 909.5,909.7 910.5,910.6 911.5,909.3 912.5,906.8 913.5,903.4 914.5,899.0 915.5,894.5 916.5,888.2 917.5,882.1 918.5,878.3 919.5,875.0 920.5,875.3 921.5,878.6 922.5,883.3 923.5,890.1 924.5,896.9 925.5,902.1 926.5,904.4 927.5,903.2 928.5,898.0 929.5,889.9 930.5,881.1 931.5,872.3 932.5,865.3 933.5,860.7 934.5,858.2 935.5,857.0 936.5,857.3 937.5,857.1 938.5,856.8 939.5,856.5 940.5,855.5 941.5,856.2 942.5,856.8 943.5,858.0 944.5,859.7 945.5,860.3 946.5,860.8 947.5,860.9 948.5,861.6 949.5,863.0 950.5,866.0 951.5,871.2 952.5,877.4 953.5,886.0 954.5,894.3 955.5,901.1 956.5,904.9 957.5,906.6 958.5,907.4 959.5,908.2 960.5,911.4 961.5,912.7 962.5,913.2 963.5,912.5 964.5,909.8 965.5,908.3 966.5,907.4 967.5,907.8 968.5,909.7 969.5,912.5 970.5,915.1 971.5,917.1 972.5,918.4 973.5,919.3 974.5,919.3 975.5,918.0 976.5,913.2 977.5,905.2 978.5,893.6 979.5,880.4 980.5,869.2 981.5,860.4 982.5,856.3 983.5,855.1 984.5,855.3 985.5,856.4 986.5,857.0 987.5,858.2 988.5,860.9 989.5,865.2 990.5,871.4 991.5,878.6 992.5,885.4 993.5,890.7 994.5,893.1 995.5,892.7 996.5,888.4 997.5,882.3 998.5,875.3 999.5,869.4 1000.5,865.8 1001.5,864.5 1002.5,866.0 1003.5,867.9 1004.5,870.8 1005.5,873.6 1006.5,876.9 1007.5,882.3 1008.5,889.2 1009.5,897.2 1010.5,904.3 1011.5,909.7 1012.5,912.1 1013.5,912.7 1014.5,912.7 1015.5,911.5 1016.5,910.4 1017.5,909.8 1018.5,909.5 1019.5,910.2 1020.5,911.6 1021.5,912.5 1022.5,913.1 1023.5,914.1 1024.5,915.1 1025.5,916.5 1026.5,917.4 1027.5,916.2 1028.5,912.6 1029.5,906.0 1030.5,897.0 1031.5,887.4 1032.5,879.6 1033.5,876.1 1034.5,877.8 1035.5,884.1 1036.5,892.2 1037.5,899.7 1038.5,904.7 1039.5,906.7 1040.5,908.1 1041.5,908.4 1042.5,908.2 1043.5,907.7 1044.5,903.4 1045.5,897.5 1046.5,891.3 1047.5,885.4 1048.5,884.9 1049.5,888.1 1050.5,894.7 1051.5,902.6 1052.5,908.2 1053.5,912.0 1054.5,913.5 1055.5,913.6 1056.5,913.1 1057.5,911.9 1058.5,908.6 1059.5,902.2 1060.5,893.5 1061.5,882.7 1062.5,872.9 1063.5,866.7 1064.5,863.5 1065.5,864.3 1066.5,867.6 1067.5,873.4 1068.5,881.9 1069.5,891.5 1070.5,901.7 1071.5,908.6 1072.5,911.0 1073.5,909.8 1074.5,904.1 1075.5,898.5 1076.5,893.9 1077.5,890.6 1078.5,889.9 1079.5,889.8 1080.5,888.9 1081.5,888.2 1082.5,886.3 1083.5,884.0 1084.5,881.8 1085.5,877.2 1086.5,871.3 1087.5,863.7 1088.5,856.5 1089.5,851.9 1090.5,850.2 1091.5,850.8 1092.5,852.5 1093.5,855.1 1094.5,856.7 1095.5,859.1 1096.5,862.8 1097.5,867.4 1098.5,875.8 1099.5,885.7 1100.5,896.3 1101.5,906.3 1102.5,912.4 1103.5,915.7 1104.5,916.3 1105.5,915.0 1106.5,912.6 1107.5,908.9 1108.5,903.6 1109.5,899.8 1110.5,897.1 1111.5,897.4 1112.5,902.1 1113.5,906.3 1114.5,911.8 1115.5,916.2 1116.5,916.7 1117.5,915.9 1118.5,912.7 1119.5,907.5 1120.5,904.4 1121.5,903.3 1122.5,903.6 1123.5,906.1 1124.5,907.8 1125.5,907.2 1126.5,906.0 1127.5,904.2 1128.5,901.5 1129.5,899.1 1130.5,895.9 1131.5,891.2 1132.5,889.1 1133.5,889.1 1134.5,890.8 1135.5,895.5 1136.5,898.6 1137.5,900.2 1138.5,903.0 1139.5,906.2 1140.5,910.2 1141.5,914.2 1142.5,915.7 1143.5,914.6 1144.5,911.4 1145.5,907.9 1146.5,904.6 1147.5,901.1 1148.5,897.4 1149.5,892.7 1150.5,887.3 1151.5,882.1 1152.5,876.4 1153.5,871.4 1154.5,868.1 1155.5,867.5 1156.5,872.7 1157.5,882.5 1158.5,894.6 1159.5,906.3 1160.5,914.0 1161.5,917.1 1162.5,917.0 1163.5,914.1 1164.5,908.8 1165.5,901.1 1166.5,890.6 1167.5,879.6 1168.5,871.0 1169.5,865.7 1170.5,864.2 1171.5,864.9 1172.5,865.6 1173.5,865.9 1174.5,866.0 1175.5,867.0 1176.5,870.0 1177.5,875.4 1178.5,881.2 1179.5,885.5 1180.5,887.7 1181.5,887.6 1182.5,885.9 1183.5,884.2 1184.5,882.4 1185.5,881.0 1186.5,882.3 1187.5,886.4 1188.5,892.2 1189.5,899.2 1190.5,904.9 1191.5,907.3 1192.5,908.6 1193.5,908.4 1194.5,906.8 1195.5,904.7 1196.5,900.5 1197.5,894.7 1198.5,888.6 1199.5,883.3 1200.5,880.3 1201.5,880.6 1202.5,882.6 1203.5,885.1 1204.5,888.3 1205.5,890.9 1206.5,895.3 1207.5,902.1 1208.5,909.1 1209.5,915.3 1210.5,919.1 1211.5,919.9 1212.5,919.3 1213.5,918.6 1214.5,917.0 1215.5,914.1 1216.5,908.6 1217.5,901.0 1218.5,893.4 1219.5,886.9 1220.5,884.5 1221.5,884.6 1222.5,887.3 1223.5,891.0 1224.5,894.1 1225.5,897.3 1226.5,898.3 1227.5,897.6 1228.5,894.1 1229.5,888.1 1230.5,880.6 1231.5,872.1 1232.5,865.3 1233.5,860.4 1234.5,858.5 1235.5,859.6 1236.5,862.0 1237.5,864.2 1238.5,865.0 1239.5,864.6 1240.5,865.6 1241.5,869.4 1242.5,875.7 1243.5,884.5 1244.5,891.1 1245.5,894.4 1246.5,896.4 1247.5,895.7 1248.5,894.3 1249.5,892.5 1250.5,887.6 1251.5,881.0 1252.5,873.0 1253.5,864.9 1254.5,859.8 1255.5,856.9 1256.5,856.1 1257.5,857.1 1258.5,858.1 1259.5,859.2 1260.5,861.7 1261.5,864.9 1262.5,869.5 1263.5,876.7 1264.5,885.2 1265.5,893.4 1266.5,901.5 1267.5,906.5 1268.5,909.7 1269.5,912.6 1270.5,913.2 1271.5,913.3 1272.5,911.6 1273.5,907.9 1274.5,903.8 1275.5,899.5 1276.5,895.0 1277.5,889.6 1278.5,884.0 1279.5,876.7 1280.5,869.7 1281.5,864.5 1282.5,859.1 1283.5,855.7 1284.5,853.3 1285.5,850.7 1286.5,849.4 1287.5,849.2 1288.5,850.7 1289.5,854.1 1290.5,858.1 1291.5,860.7 1292.5,862.3 1293.5,862.0 1294.5,861.3 1295.5,860.8 1296.5,859.8 1297.5,859.3 1298.5,858.4 1299.5,859.3 1300.5,860.2 1301.5,861.2 1302.5,863.5 1303.5,866.1 1304.5,872.5 1305.5,881.0 1306.5,888.3 1307.5,893.5 1308.5,892.9 1309.5,889.2 1310.5,887.1 1311.5,887.0 1312.5,890.5 1313.5,895.7 1314.5,899.7 1315.5,903.4 1316.5,906.2 1317.5,908.0 1318.5,910.2 1319.5,911.0 1320.5,911.7 1321.5,912.5 1322.5,911.7 1323.5,910.1 1324.5,906.9 1325.5,903.0 1326.5,899.5 1327.5,895.6 1328.5,891.0 1329.5,884.4 1330.5,876.5 1331.5,869.0 1332.5,863.5 1333.5,861.7 1334.5,862.7 1335.5,865.6 1336.5,868.5 1337.5,870.2 1338.5,870.5 1339.5,870.4 1340.5,871.2 1341.5,872.1 1342.5,873.0 1343.5,872.6 1344.5,869.8 1345.5,867.6 1346.5,865.2 1347.5,864.5 1348.5,867.0 1349.5,871.9 1350.5,881.8 1351.5,893.1 1352.5,903.9 1353.5,912.2 1354.5,915.6 1355.5,916.9 1356.5,916.4 1357.5,915.5 1358.5,914.3 1359.5,912.5 1360.5,911.1 1361.5,910.3 1362.5,910.6 1363.5,911.7 1364.5,911.7 1365.5,909.8 1366.5,904.3 1367.5,895.5 1368.5,884.8 1369.5,874.8 1370.5,868.0 1371.5,865.0 1372.5,866.1 1373.5,869.0 1374.5,872.1 1375.5,875.3 1376.5,876.7 1377.5,876.3 1378.5,876.1 1379.5,875.3 1380.5,877.7 1381.5,884.4 1382.5,892.4 1383.5,902.1 1384.5,909.1 1385.5,912.8 1386.5,913.9 1387.5,912.6 1388.5,910.3 1389.5,906.3 1390.5,900.8 1391.5,892.8 1392.5,883.7 1393.5,874.9 1394.5,867.9 1395.5,863.3 1396.5,860.5 1397.5,859.5 1398.5,859.3 1399.5,861.0 1400.5,864.6 1401.5,868.3 1402.5,872.4 1403.5,876.4 1404.5,879.6 1405.5,884.8 1406.5,891.3 1407.5,898.6 1408.5,906.6 1409.5,911.9 1410.5,915.1 1411.5,916.4 1412.5,916.7 1413.5,917.1 1414.5,916.7 1415.5,915.6 1416.5,912.5 1417.5,908.8 1418.5,906.0 1419.5,905.0 1420.5,907.3 1421.5,910.9 1422.5,914.6 1423.5,918.3 1424.5,920.0 1425.5,921.3 1426.5,922.1 1427.5,921.1 1428.5,919.1 1429.5,916.2 1430.5,912.5 1431.5,909.8 1432.5,907.7 1433.5,905.7 1434.5,904.2 1435.5,902.1 1436.5,899.2 1437.5,894.8 1438.5,889.4 1439.5,885.0 1440.5,883.2 1441.5,886.7 1442.5,894.1 1443.5,902.5 1444.5,909.3 1445.5,911.9 1446.5,910.7 1447.5,906.0 1448.5,899.3 1449.5,890.8 1450.5,881.2 1451.5,873.0 1452.5,866.4 1453.5,863.1 1454.5,862.3 1455.5,862.8 1456.5,864.1 1457.5,864.6 1458.5,866.2 1459.5,869.2 1460.5,873.8 1461.5,881.3 1462.5,889.1 1463.5,896.5 1464.5,902.4 1465.5,906.5 1466.5,909.2 1467.5,911.1 1468.5,913.4 1469.5,914.6 1470.5,912.2 1471.5,904.4 1472.5,891.2 1473.5,874.6 1474.5,860.9 1475.5,853.8 1476.5,852.3 1477.5,854.6 1478.5,856.4 1479.5,856.3 1480.5,854.8 1481.5,854.2 1482.5,855.5 1483.5,858.9 1484.5,864.1 1485.5,869.7 1486.5,876.3 1487.5,882.9 1488.5,890.9 1489.5,897.8 1490.5,903.5 1491.5,907.8 1492.5,908.6 1493.5,909.0 1494.5,906.6 1495.5,901.5 1496.5,895.4 1497.5,887.0 1498.5,878.5 1499.5,871.3 1500.5,864.7 1501.5,860.3 1502.5,858.0 1503.5,857.3 1504.5,859.4 1505.5,864.2 1506.5,871.2 1507.5,880.6 1508.5,891.2 1509.5,900.6 1510.5,908.5 1511.5,912.6 1512.5,913.4 1513.5,911.0 1514.5,905.9 1515.5,899.7 1516.5,891.6 1517.5,884.2 1518.5,878.7 1519.5,877.7 1520.5,880.7 1521.5,887.9 1522.5,896.4 1523.5,902.0 1524.5,905.0 1525.5,902.3 1526.5,896.1 1527.5,888.1 1528.5,880.8 1529.5,876.0 1530.5,874.0 1531.5,875.2 1532.5,877.9 1533.5,883.0 1534.5,889.4 1535.5,896.5 1536.5,903.9 1537.5,909.2 1538.5,911.9 1539.5,911.6 1540.5,908.6 1541.5,903.2 1542.5,896.1 1543.5,888.2 1544.5,879.0 1545.5,870.0 1546.5,862.1 1547.5,856.1 1548.5,853.8 1549.5,855.6 1550.5,861.8 1551.5,869.7 1552.5,878.4 1553.5,885.3 1554.5,887.3 1555.5,886.0 1556.5,880.8 1557.5,874.5 1558.5,870.5 1559.5,868.2 1560.5,866.7 1561.5,865.5 1562.5,863.2 1563.5,860.8 1564.5,861.0 1565.5,862.9 1566.5,868.3 1567.5,875.0 1568.5,882.4 1569.5,890.7 1570.5,897.5 1571.5,904.3 1572.5,907.9 1573.5,907.5 1574.5,902.7 1575.5,893.6 1576.5,883.6 1577.5,873.9 1578.5,868.4 1579.5,866.2 1580.5,867.2 1581.5,870.4 1582.5,873.5 1583.5,877.7 1584.5,882.6 1585.5,889.7 1586.5,897.9 1587.5,905.4 1588.5,911.9 1589.5,914.8 1590.5,916.9 1591.5,918.2 1592.5,918.2 1593.5,918.0 1594.5,915.4 1595.5,910.7 1596.5,905.2 1597.5,899.0 1598.5,893.9 1599.5,891.4 1600.5,891.2 1601.5,892.8 1602.5,894.8 1603.5,894.6 1604.5,892.4 1605.5,888.0 1606.5,881.6 1607.5,875.6 1608.5,870.0 1609.5,866.9 1610.5,865.7 1611.5,865.2 1612.5,865.8 1613.5,865.0 1614.5,865.5 1615.5,867.3 1616.5,869.5 1617.5,873.1 1618.5,876.3 1619.5,880.5 1620.5,884.7 1621.5,888.4 1622.5,890.8 1623.5,892.4 1624.5,895.0 1625.5,898.8 1626.5,903.3 1627.5,905.6 1628.5,905.9 1629.5,905.1 1630.5,904.9 1631.5,906.5 1632.5,908.2 1633.5,909.3 1634.5,909.3 1635.5,908.6 1636.5,907.2 1637.5,904.9 1638.5,900.8 1639.5,895.6 1640.5,892.5 1641.5,891.3 1642.5,894.2 1643.5,897.9 1644.5,898.8 1645.5,897.7 1646.5,893.0 1647.5,887.3 1648.5,882.1 1649.5,876.2 1650.5,870.7 1651.5,865.8 1652.5,861.7 1653.5,860.3 1654.5,860.4 1655.5,860.7 1656.5,861.7 1657.5,863.9 1658.5,869.3 1659.5,878.2 1660.5,890.2 1661.5,900.5 1662.5,905.8 1663.5,906.7 1664.5,901.8 1665.5,896.4 1666.5,891.7 1667.5,887.3 1668.5,883.3 1669.5,877.4 1670.5,870.4 1671.5,863.1 1672.5,857.9 1673.5,857.1 1674.5,861.3 1675.5,869.2 1676.5,878.8 1677.5,886.4 1678.5,890.0 1679.5,889.9 1680.5,886.7 1681.5,881.9 1682.5,876.4 1683.5,871.7 1684.5,870.0 1685.5,872.0 1686.5,877.4 1687.5,883.6 1688.5,888.3 1689.5,889.4 1690.5,887.8 1691.5,884.4 1692.5,878.6 1693.5,872.4 1694.5,864.9 1695.5,858.7 1696.5,855.3 1697.5,854.8 1698.5,859.7 1699.5,867.5 1700.5,878.2 1701.5,889.2 1702.5,898.0 1703.5,903.4 1704.5,904.8 1705.5,903.2 1706.5,899.5 1707.5,893.6 1708.5,885.7 1709.5,877.0 1710.5,867.8 1711.5,860.5 1712.5,856.1 1713.5,854.9 1714.5,856.5 1715.5,860.5 1716.5,865.1 1717.5,868.5 1718.5,870.8 1719.5,871.7 1720.5,873.8 1721.5,879.1 1722.5,887.1 1723.5,895.3 1724.5,899.1 1725.5,895.5 1726.5,886.3 1727.5,875.0 1728.5,864.1 1729.5,857.5 1730.5,854.1 1731.5,853.0 1732.5,854.1 1733.5,855.4 1734.5,856.1 1735.5,856.1 1736.5,855.3 1737.5,854.3 1738.5,854.2 1739.5,854.7 1740.5,855.9 1741.5,856.8 1742.5,857.7 1743.5,859.3 1744.5,862.8 1745.5,868.7 1746.5,875.6 1747.5,882.1 1748.5,886.6 1749.5,889.0 1750.5,889.8 1751.5,889.9 1752.5,888.2 1753.5,886.4 1754.5,885.0 1755.5,883.1 1756.5,884.8 1757.5,887.2 1758.5,890.1 1759.5,893.5 1760.5,894.9 1761.5,894.5 1762.5,891.2 1763.5,886.2 1764.5,880.8 1765.5,878.2 1766.5,880.1 1767.5,885.1 1768.5,890.4 1769.5,892.3 1770.5,888.9 1771.5,882.3 1772.5,876.7 1773.5,873.6 1774.5,875.3 1775.5,879.1 1776.5,882.2 1777.5,885.1 1778.5,886.8 1779.5,889.0 1780.5,892.6 1781.5,894.9 1782.5,895.8 1783.5,894.4 1784.5,890.4 1785.5,887.9 1786.5,885.3 1787.5,882.4 1788.5,879.5 1789.5,874.4 1790.5,869.0 1791.5,864.4 1792.5,860.4 1793.5,857.9 1794.5,858.0 1795.5,859.8 1796.5,865.0 1797.5,873.4 1798.5,881.6 1799.5,890.3 1800.5,897.1 1801.5,901.3 1802.5,906.4 1803.5,910.6 1804.5,915.2 1805.5,918.5 1806.5,919.5 1807.5,919.2 1808.5,917.3 1809.5,916.0 1810.5,914.6 1811.5,912.7 1812.5,909.4 1813.5,904.2 1814.5,897.3 1815.5,889.9 1816.5,886.3 1817.5,886.5 1818.5,892.5 1819.5,902.1 1820.5,909.9 1821.5,915.8 1822.5,917.4 1823.5,916.2 1824.5,914.7 1825.5,912.6 1826.5,910.1 1827.5,906.8 1828.5,901.3 1829.5,894.5 1830.5,885.4 1831.5,879.0 1832.5,875.9" stroke="#ff0000" fill="none"/>
<text x="816.5" y="858" fill="#0a1030">80.000</text>
<text x="1183" y="884" fill="#0a1030">50.000</text>
<text x="1548.5" y="910" fill="#0a1030">20.000</text>
<rect x="5.5" y="844.5" width="47" height="14" fill="#fff" stroke="#000"/>
<text x="8.5" y="855.5" fill="#000">Sto(9/5)</text>
<rect x="55.5" y="845.5" width="12" height="12" fill="#fff" stroke="#000"/>
<path d="M57 851H66M61 847V856" stroke="#000" stroke-width="2" fill="none"/>
<rect x="8" y="859" width="20" height="28" fill="#fff"/>
<text x="8.5" y="870.7" fill="#000">%K</text>
<text x="8.5" y="885.9" fill="#ff0000">%D</text>
<rect x="1838" y="1" width="77" height="946" fill="#fff"/>
<path d="M1838 23.5H1842M1838 66.5H1842M1838 108.5H1842M1838 151.5H1842M1838 193.5H1842M1838 236.5H1842M1838 278.5H1842M1838 321.5H1842M1838 363.5H1842M1838 405.5H1842M1838 448.5H1842M1838 490.5H1842M1838 533.5H1842M1838 575.5H1842M1838 618.5H1842M1838 660.5H1842M1838 703.5H1842M1838 745.5H1842M1838 788.5H1842M1838 830.5H1842M1838 864.5H1842M1838 906.5H1842" stroke="#c0c0c0" fill="none"/>
<path d="M1838 928.5H1841" stroke="#c0c0c0" fill="none"/>
<path d="M1837.5 1V947" stroke="#c0c0c0" fill="none"/>
<path d="M1838 839.5H1915" stroke="#c0c0c0" fill="none"/>
<text x="1843" y="27.8" fill="#000">500.00</text>
<text x="1843" y="70.8" fill="#000">475.00</text>
<text x="1843" y="112.8" fill="#000">450.00</text>
<text x="1843" y="155.8" fill="#000">425.00</text>
<text x="1843" y="197.8" fill="#000">400.00</text>
<text x="1843" y="240.8" fill="#000">375.00</text>
<text x="1843" y="282.8" fill="#000">350.00</text>
<text x="1843" y="325.8" fill="#000">325.00</text>
<text x="1843" y="367.8" fill="#000">300.00</text>
<text x="1843" y="409.8" fill="#000">275.00</text>
<text x="1843" y="452.8" fill="#000">250.00</text>
<text x="1843" y="494.8" fill="#000">225.00</text>
<text x="1843" y="537.8" fill="#000">200.00</text>
<text x="1843" y="579.8" fill="#000">175.00</text>
<text x="1843" y="622.8" fill="#000">150.00</text>
<text x="1843" y="664.8" fill="#000">125.00</text>
<text x="1843" y="707.8" fill="#000">100.00</text>
<text x="1843" y="749.8" fill="#000">75.00</text>
<text x="1843" y="792.8" fill="#000">50.00</text>
<text x="1843" y="829.5" fill="#000">25.000</text>
<rect x="1838" y="723" width="77" height="14" fill="#0000ff"/>
<text x="1843.5" y="734.5" fill="#fff">84.32</text>
<text x="1843" y="889.8" fill="#000">50.00</text>
<text x="1843" y="910.5" fill="#000">25.000</text>
<rect x="1838" y="856" width="77" height="14" fill="#000"/>
<rect x="1838" y="871" width="77" height="14" fill="#ff0000"/>
<path d="M1838 863.5H1842M1838 877.5H1842" stroke="#fff" fill="none"/>
<text x="1843.5" y="867.7" fill="#fff">71.78</text>
<text x="1843.5" y="882" fill="#fff">61.61</text>
<rect x="1906.5" y="17.5" width="8" height="8" fill="#fff" stroke="#c0c0c0"/>
<path d="M1908 21.5H1913" stroke="#c0c0c0" fill="none"/>
<rect x="1" y="933" width="1836" height="14" fill="#fff"/>
<path d="M0 932.5H1915" stroke="#c0c0c0" fill="none"/>
<rect x="437" y="935" width="1380" height="11" fill="#a6caf0"/>
<path d="M76.5 933V947M116.5 933V947M156.5 933V947M197.5 933V947M236.5 933V947M276.5 933V947M312.5 933V947M350.5 933V947M390.5 933V947M430.5 933V947M471.5 933V947M512.5 933V947M552.5 933V947M592.5 933V947M633.5 933V947M672.5 933V947M713.5 933V947M754.5 933V947M794.5 933V947M832.5 933V947M874.5 933V947M914.5 933V947M955.5 933V947M994.5 933V947M1036.5 933V947M1074.5 933V947M1115.5 933V947M1155.5 933V947M1196.5 933V947M1236.5 933V947M1277.5 933V947M1316.5 933V947M1355.5 933V947M1397.5 933V947M1438.5 933V947M1478.5 933V947M1517.5 933V947M1558.5 933V947M1598.5 933V947M1638.5 933V947M1679.5 933V947M1720.5 933V947M1760.5 933V947M1800.5 933V947M1822.5 933V947" stroke="#c0c0c0" fill="none"/>
<text x="75.5" y="944.5" text-anchor="end" fill="#000">01</text>
<text x="79.5" y="944.5" fill="#000">18</text>
<text x="115.5" y="944.5" text-anchor="end" fill="#000">03</text>
<text x="119.5" y="944.5" fill="#000">18</text>
<text x="155.5" y="944.5" text-anchor="end" fill="#000">05</text>
<text x="159.5" y="944.5" fill="#000">18</text>
<text x="196.5" y="944.5" text-anchor="end" fill="#000">07</text>
<text x="200.5" y="944.5" fill="#000">18</text>
<text x="235.5" y="944.5" text-anchor="end" fill="#000">09</text>
<text x="239.5" y="944.5" fill="#000">18</text>
<text x="275.5" y="944.5" text-anchor="end" fill="#000">11</text>
<text x="279.5" y="944.5" fill="#000">18</text>
<text x="311.5" y="944.5" text-anchor="end" fill="#000">01</text>
<text x="315.5" y="944.5" fill="#000">19</text>
<text x="349.5" y="944.5" text-anchor="end" fill="#000">03</text>
<text x="353.5" y="944.5" fill="#000">19</text>
<text x="389.5" y="944.5" text-anchor="end" fill="#000">05</text>
<text x="393.5" y="944.5" fill="#000">19</text>
<text x="429.5" y="944.5" text-anchor="end" fill="#000">07</text>
<text x="433.5" y="944.5" fill="#000">19</text>
<text x="470.5" y="944.5" text-anchor="end" fill="#000">09</text>
<text x="474.5" y="944.5" fill="#000">19</text>
<text x="511.5" y="944.5" text-anchor="end" fill="#000">11</text>
<text x="515.5" y="944.5" fill="#000">19</text>
<text x="551.5" y="944.5" text-anchor="end" fill="#000">01</text>
<text x="555.5" y="944.5" fill="#000">20</text>
<text x="591.5" y="944.5" text-anchor="end" fill="#000">03</text>
<text x="595.5" y="944.5" fill="#000">20</text>
<text x="632.5" y="944.5" text-anchor="end" fill="#000">05</text>
<text x="636.5" y="944.5" fill="#000">20</text>
<text x="671.5" y="944.5" text-anchor="end" fill="#000">07</text>
<text x="675.5" y="944.5" fill="#000">20</text>
<text x="712.5" y="944.5" text-anchor="end" fill="#000">09</text>
<text x="716.5" y="944.5" fill="#000">20</text>
<text x="753.5" y="944.5" text-anchor="end" fill="#000">11</text>
<text x="757.5" y="944.5" fill="#000">20</text>
<text x="793.5" y="944.5" text-anchor="end" fill="#000">01</text>
<text x="797.5" y="944.5" fill="#000">21</text>
<text x="831.5" y="944.5" text-anchor="end" fill="#000">03</text>
<text x="835.5" y="944.5" fill="#000">21</text>
<text x="873.5" y="944.5" text-anchor="end" fill="#000">05</text>
<text x="877.5" y="944.5" fill="#000">21</text>
<text x="913.5" y="944.5" text-anchor="end" fill="#000">07</text>
<text x="917.5" y="944.5" fill="#000">21</text>
<text x="954.5" y="944.5" text-anchor="end" fill="#000">09</text>
<text x="958.5" y="944.5" fill="#000">21</text>
<text x="993.5" y="944.5" text-anchor="end" fill="#000">11</text>
<text x="997.5" y="944.5" fill="#000">21</text>
<text x="1035.5" y="944.5" text-anchor="end" fill="#000">01</text>
<text x="1039.5" y="944.5" fill="#000">22</text>
<text x="1073.5" y="944.5" text-anchor="end" fill="#000">03</text>
<text x="1077.5" y="944.5" fill="#000">22</text>
<text x="1114.5" y="944.5" text-anchor="end" fill="#000">05</text>
<text x="1118.5" y="944.5" fill="#000">22</text>
<text x="1154.5" y="944.5" text-anchor="end" fill="#000">07</text>
<text x="1158.5" y="944.5" fill="#000">22</text>
<text x="1195.5" y="944.5" text-anchor="end" fill="#000">09</text>
<text x="1199.5" y="944.5" fill="#000">22</text>
<text x="1235.5" y="944.5" text-anchor="end" fill="#000">11</text>
<text x="1239.5" y="944.5" fill="#000">22</text>
<text x="1276.5" y="944.5" text-anchor="end" fill="#000">01</text>
<text x="1280.5" y="944.5" fill="#000">23</text>
<text x="1315.5" y="944.5" text-anchor="end" fill="#000">03</text>
<text x="1319.5" y="944.5" fill="#000">23</text>
<text x="1354.5" y="944.5" text-anchor="end" fill="#000">05</text>
<text x="1358.5" y="944.5" fill="#000">23</text>
<text x="1396.5" y="944.5" text-anchor="end" fill="#000">07</text>
<text x="1400.5" y="944.5" fill="#000">23</text>
<text x="1437.5" y="944.5" text-anchor="end" fill="#000">09</text>
<text x="1441.5" y="944.5" fill="#000">23</text>
<text x="1477.5" y="944.5" text-anchor="end" fill="#000">11</text>
<text x="1481.5" y="944.5" fill="#000">23</text>
<text x="1516.5" y="944.5" text-anchor="end" fill="#000">01</text>
<text x="1520.5" y="944.5" fill="#000">24</text>
<text x="1557.5" y="944.5" text-anchor="end" fill="#000">03</text>
<text x="1561.5" y="944.5" fill="#000">24</text>
<text x="1597.5" y="944.5" text-anchor="end" fill="#000">05</text>
<text x="1601.5" y="944.5" fill="#000">24</text>
<text x="1637.5" y="944.5" text-anchor="end" fill="#000">07</text>
<text x="1641.5" y="944.5" fill="#000">24</text>
<text x="1678.5" y="944.5" text-anchor="end" fill="#000">09</text>
<text x="1682.5" y="944.5" fill="#000">24</text>
<text x="1719.5" y="944.5" text-anchor="end" fill="#000">11</text>
<text x="1723.5" y="944.5" fill="#000">24</text>
<text x="1759.5" y="944.5" text-anchor="end" fill="#000">01</text>
<text x="1763.5" y="944.5" fill="#000">25</text>
<text x="1799.5" y="944.5" text-anchor="end" fill="#000">03</text>
<text x="1803.5" y="944.5" fill="#000">25</text>
<text x="1826" y="943.5" fill="#000">Z</text>
<path d="M0 .5H1916M.5 0V234M.5 840V948M1915.5 0V948M0 947.5H1916" stroke="#000" fill="none"/>
</svg></body></html>
